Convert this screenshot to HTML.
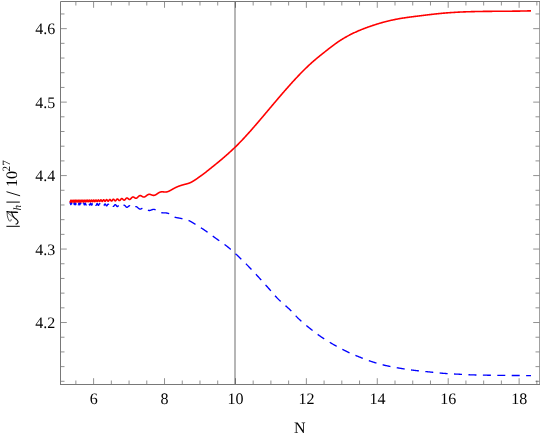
<!DOCTYPE html>
<html><head><meta charset="utf-8"><style>
html,body{margin:0;padding:0;background:#fff;}
svg{display:block;font-family:"Liberation Serif",serif;font-size:16px;fill:#000;}
text{text-rendering:geometricPrecision;}
</style></head><body>
<svg width="540" height="437" viewBox="0 0 540 437">
<rect width="540" height="437" fill="#fff"/>
<rect x="234" y="1.5" width="2" height="383.0" fill="#b6b6b6"/>
<path d="M70.00,203.61 L70.05,203.34 L70.10,203.08 L70.15,202.87 L70.20,202.72 L70.25,202.64 L70.30,202.64 L70.35,202.72 L70.40,202.86 L70.45,203.07 L70.50,203.32 L70.55,203.59 L70.60,203.87 L70.65,204.12 L70.70,204.34 L70.75,204.50 L70.80,204.59 L70.85,204.61 L70.90,204.55 L70.95,204.42 L71.00,204.23 L71.05,203.99 L71.10,203.73 L71.15,203.46 L71.20,203.21 L71.25,202.98 L71.30,202.81 L71.35,202.70 L71.40,202.66 L71.45,202.69 L71.50,202.79 L71.55,202.96 L71.60,203.18 L71.65,203.43 L71.70,203.69 L71.75,203.96 L71.80,204.20 L71.85,204.39 L71.90,204.54 L71.95,204.62 L72.00,204.62 L72.05,204.56 L72.10,204.43 L72.15,204.25 L72.20,204.02 L72.25,203.77 L72.30,203.51 L72.35,203.26 L72.40,203.04 L72.45,202.86 L72.50,202.74 L72.55,202.69 L72.60,202.70 L72.65,202.78 L72.70,202.92 L72.75,203.11 L72.80,203.35 L72.85,203.60 L72.90,203.86 L72.95,204.10 L73.00,204.32 L73.05,204.49 L73.10,204.60 L73.15,204.65 L73.20,204.64 L73.25,204.56 L73.30,204.42 L73.35,204.23 L73.40,204.00 L73.45,203.76 L73.50,203.51 L73.55,203.27 L73.60,203.06 L73.65,202.89 L73.70,202.77 L73.75,202.72 L73.80,202.72 L73.85,202.80 L73.90,202.93 L73.95,203.11 L74.00,203.32 L74.05,203.56 L74.10,203.81 L74.15,204.05 L74.20,204.27 L74.25,204.45 L74.30,204.59 L74.35,204.66 L74.40,204.68 L74.45,204.63 L74.50,204.53 L74.55,204.37 L74.60,204.17 L74.65,203.95 L74.70,203.71 L74.75,203.47 L74.80,203.24 L74.85,203.05 L74.90,202.89 L74.95,202.79 L75.00,202.74 L75.05,202.76 L75.10,202.83 L75.15,202.96 L75.20,203.13 L75.25,203.34 L75.30,203.57 L75.35,203.81 L75.40,204.05 L75.45,204.26 L75.50,204.44 L75.55,204.59 L75.60,204.68 L75.65,204.71 L75.70,204.69 L75.75,204.61 L75.80,204.48 L75.85,204.30 L75.90,204.10 L75.95,203.87 L76.00,203.64 L76.05,203.41 L76.10,203.20 L76.15,203.03 L76.20,202.89 L76.25,202.81 L76.30,202.78 L76.35,202.80 L76.40,202.88 L76.45,203.01 L76.50,203.17 L76.55,203.38 L76.60,203.60 L76.65,203.83 L76.70,204.06 L76.75,204.27 L76.80,204.45 L76.85,204.59 L76.90,204.69 L76.95,204.74 L77.00,204.73 L77.05,204.67 L77.10,204.56 L77.15,204.41 L77.20,204.23 L77.25,204.02 L77.30,203.80 L77.35,203.57 L77.40,203.36 L77.45,203.17 L77.50,203.01 L77.55,202.90 L77.60,202.83 L77.65,202.81 L77.70,202.85 L77.75,202.93 L77.80,203.06 L77.85,203.22 L77.90,203.42 L77.95,203.63 L78.00,203.86 L78.05,204.07 L78.10,204.28 L78.15,204.46 L78.20,204.60 L78.25,204.71 L78.30,204.76 L78.35,204.77 L78.40,204.73 L78.45,204.65 L78.50,204.52 L78.55,204.35 L78.60,204.16 L78.65,203.95 L78.70,203.74 L78.75,203.53 L78.80,203.33 L78.85,203.16 L78.90,203.02 L78.95,202.92 L79.00,202.86 L79.05,202.86 L79.10,202.89 L79.15,202.98 L79.20,203.10 L79.25,203.26 L79.30,203.45 L79.35,203.66 L79.40,203.87 L79.45,204.08 L79.50,204.28 L79.55,204.46 L79.60,204.60 L79.65,204.72 L79.70,204.79 L79.75,204.81 L79.80,204.79 L79.85,204.73 L79.90,204.62 L79.95,204.48 L80.00,204.31 L80.05,204.12 L80.10,203.92 L80.15,203.71 L80.20,203.51 L80.25,203.33 L80.30,203.17 L80.35,203.04 L80.40,202.95 L80.45,202.90 L80.50,202.90 L80.55,202.94 L80.60,203.01 L80.65,203.13 L80.70,203.28 L80.75,203.46 L80.80,203.65 L80.85,203.85 L80.90,204.06 L80.95,204.25 L81.00,204.43 L81.05,204.59 L81.10,204.71 L81.15,204.80 L81.20,204.84 L81.25,204.85 L81.30,204.82 L81.35,204.74 L81.40,204.63 L81.45,204.49 L81.50,204.32 L81.55,204.13 L81.60,203.94 L81.65,203.74 L81.70,203.55 L81.75,203.38 L81.80,203.22 L81.85,203.10 L81.90,203.01 L81.95,202.96 L82.00,202.94 L82.05,202.97 L82.10,203.03 L82.15,203.13 L82.20,203.27 L82.25,203.43 L82.30,203.61 L82.35,203.80 L82.40,203.99 L82.45,204.18 L82.50,204.37 L82.55,204.53 L82.60,204.67 L82.65,204.78 L82.70,204.85 L82.75,204.89 L82.80,204.89 L82.85,204.85 L82.90,204.78 L82.95,204.67 L83.00,204.54 L83.05,204.38 L83.10,204.20 L83.15,204.02 L83.20,203.83 L83.25,203.65 L83.30,203.48 L83.35,203.32 L83.40,203.19 L83.45,203.09 L83.50,203.03 L83.55,202.99 L83.60,203.00 L83.65,203.04 L83.70,203.11 L83.75,203.22 L83.80,203.36 L83.85,203.51 L83.90,203.69 L83.95,203.87 L84.00,204.06 L84.05,204.24 L84.10,204.41 L84.15,204.57 L84.20,204.70 L84.25,204.81 L84.30,204.89 L84.35,204.93 L84.40,204.94 L84.45,204.92 L84.50,204.86 L84.55,204.77 L84.60,204.65 L84.65,204.51 L84.70,204.35 L84.75,204.18 L84.80,204.00 L84.85,203.82 L84.90,203.65 L84.95,203.49 L85.00,203.35 L85.05,203.23 L85.10,203.14 L85.15,203.08 L85.20,203.05 L85.25,203.05 L85.30,203.09 L85.35,203.16 L85.40,203.25 L85.45,203.38 L85.50,203.52 L85.55,203.68 L85.60,203.85 L85.65,204.03 L85.70,204.21 L85.75,204.38 L85.80,204.54 L85.85,204.68 L85.90,204.80 L85.95,204.89 L86.00,204.96 L86.05,204.99 L86.10,204.99 L86.15,204.96 L86.20,204.90 L86.25,204.82 L86.30,204.71 L86.35,204.57 L86.40,204.42 L86.45,204.26 L86.50,204.09 L86.55,203.92 L86.60,203.76 L86.65,203.60 L86.70,203.46 L86.75,203.34 L86.80,203.24 L86.85,203.16 L86.90,203.12 L86.95,203.10 L87.00,203.12 L87.05,203.16 L87.10,203.24 L87.15,203.33 L87.20,203.45 L87.25,203.59 L87.30,203.75 L87.35,203.91 L87.40,204.08 L87.45,204.25 L87.50,204.41 L87.55,204.56 L87.60,204.70 L87.65,204.82 L87.70,204.92 L87.75,204.99 L87.80,205.04 L87.85,205.05 L87.90,205.04 L87.95,205.00 L88.00,204.93 L88.05,204.84 L88.10,204.73 L88.15,204.60 L88.20,204.46 L88.25,204.30 L88.30,204.14 L88.35,203.98 L88.40,203.82 L88.45,203.67 L88.50,203.54 L88.55,203.42 L88.60,203.32 L88.65,203.25 L88.70,203.20 L88.75,203.17 L88.80,203.17 L88.85,203.20 L88.90,203.26 L88.95,203.34 L89.00,203.44 L89.05,203.56 L89.10,203.70 L89.15,203.85 L89.20,204.00 L89.25,204.16 L89.30,204.32 L89.35,204.48 L89.40,204.62 L89.45,204.75 L89.50,204.87 L89.55,204.97 L89.60,205.04 L89.65,205.09 L89.70,205.11 L89.75,205.11 L89.80,205.09 L89.85,205.04 L89.90,204.96 L89.95,204.87 L90.00,204.75 L90.05,204.63 L90.10,204.49 L90.15,204.34 L90.20,204.19 L90.25,204.03 L90.30,203.89 L90.35,203.75 L90.40,203.62 L90.45,203.51 L90.50,203.41 L90.55,203.34 L90.60,203.28 L90.65,203.25 L90.70,203.25 L90.75,203.26 L90.80,203.31 L90.85,203.37 L90.90,203.45 L90.95,203.56 L91.00,203.68 L91.05,203.81 L91.10,203.95 L91.15,204.10 L91.20,204.25 L91.25,204.40 L91.30,204.55 L91.35,204.68 L91.40,204.81 L91.45,204.92 L91.50,205.01 L91.55,205.09 L91.60,205.14 L91.65,205.17 L91.70,205.18 L91.75,205.17 L91.80,205.13 L91.85,205.08 L91.90,205.00 L91.95,204.91 L92.00,204.80 L92.05,204.68 L92.10,204.54 L92.15,204.40 L92.20,204.26 L92.25,204.12 L92.30,203.98 L92.35,203.85 L92.40,203.73 L92.45,203.62 L92.50,203.53 L92.55,203.45 L92.60,203.39 L92.65,203.35 L92.70,203.33 L92.75,203.34 L92.80,203.36 L92.85,203.41 L92.90,203.48 L92.95,203.56 L93.00,203.66 L93.05,203.77 L93.10,203.90 L93.15,204.03 L93.20,204.17 L93.25,204.31 L93.30,204.45 L93.35,204.59 L93.40,204.72 L93.45,204.84 L93.50,204.95 L93.55,205.04 L93.60,205.12 L93.65,205.19 L93.70,205.23 L93.75,205.25 L93.80,205.26 L93.85,205.24 L93.90,205.20 L93.95,205.15 L94.00,205.08 L94.05,204.99 L94.10,204.89 L94.15,204.78 L94.20,204.66 L94.25,204.53 L94.30,204.40 L94.35,204.27 L94.40,204.14 L94.45,204.01 L94.50,203.89 L94.55,203.78 L94.60,203.69 L94.65,203.60 L94.70,203.53 L94.75,203.48 L94.80,203.45 L94.85,203.43 L94.90,203.44 L94.95,203.46 L95.00,203.50 L95.05,203.56 L95.10,203.63 L95.15,203.72 L95.20,203.82 L95.25,203.93 L95.30,204.05 L95.35,204.18 L95.40,204.31 L95.45,204.44 L95.50,204.57 L95.55,204.70 L95.60,204.82 L95.65,204.93 L95.70,205.03 L95.75,205.12 L95.80,205.20 L95.85,205.26 L95.90,205.30 L95.95,205.33 L96.00,205.34 L96.05,205.33 L96.10,205.31 L96.15,205.27 L96.20,205.21 L96.25,205.14 L96.30,205.06 L96.35,204.96 L96.40,204.86 L96.45,204.74 L96.50,204.63 L96.55,204.50 L96.60,204.38 L96.65,204.26 L96.70,204.14 L96.75,204.03 L96.80,203.93 L96.85,203.83 L96.90,203.75 L96.95,203.68 L97.00,203.62 L97.05,203.58 L97.10,203.55 L97.15,203.54 L97.20,203.55 L97.25,203.57 L97.30,203.61 L97.35,203.66 L97.40,203.73 L97.45,203.81 L97.50,203.90 L97.55,204.00 L97.60,204.11 L97.65,204.23 L97.70,204.35 L97.75,204.47 L97.80,204.59 L97.85,204.71 L97.90,204.83 L97.95,204.94 L98.00,205.04 L98.05,205.14 L98.10,205.22 L98.15,205.29 L98.20,205.35 L98.25,205.39 L98.30,205.42 L98.35,205.44 L98.40,205.44 L98.45,205.42 L98.50,205.39 L98.55,205.35 L98.60,205.29 L98.65,205.22 L98.70,205.14 L98.75,205.05 L98.80,204.95 L98.85,204.85 L98.90,204.74 L98.95,204.63 L99.00,204.51 L99.05,204.40 L99.10,204.29 L99.15,204.19 L99.20,204.09 L99.25,204.00 L99.30,203.92 L99.35,203.84 L99.40,203.78 L99.45,203.74 L99.50,203.70 L99.55,203.68 L99.60,203.67 L99.65,203.68 L99.70,203.70 L99.75,203.73 L99.80,203.78 L99.85,203.84 L99.90,203.91 L99.95,203.99 L100.00,204.08 L100.05,204.17 L100.10,204.28 L100.15,204.38 L100.20,204.50 L100.25,204.61 L100.30,204.72 L100.35,204.83 L100.40,204.94 L100.45,205.04 L100.50,205.14 L100.55,205.23 L100.60,205.31 L100.65,205.38 L100.70,205.43 L100.75,205.48 L100.80,205.52 L100.85,205.54 L100.90,205.55 L100.95,205.55 L101.00,205.53 L101.05,205.50 L101.10,205.46 L101.15,205.41 L101.20,205.35 L101.25,205.28 L101.30,205.20 L101.35,205.11 L101.40,205.02 L101.45,204.92 L101.50,204.82 L101.55,204.71 L101.60,204.61 L101.65,204.51 L101.70,204.41 L101.75,204.31 L101.80,204.22 L101.85,204.14 L101.90,204.06 L101.95,203.99 L102.00,203.94 L102.05,203.89 L102.10,203.85 L102.15,203.83 L102.20,203.81 L102.25,203.81 L102.30,203.82 L102.35,203.84 L102.40,203.88 L102.45,203.92 L102.50,203.98 L102.55,204.04 L102.60,204.12 L102.65,204.20 L102.70,204.29 L102.75,204.38 L102.80,204.48 L102.85,204.58 L102.90,204.69 L102.95,204.79 L103.00,204.90 L103.05,205.00 L103.10,205.10 L103.15,205.19 L103.20,205.28 L103.25,205.37 L103.30,205.44 L103.35,205.51 L103.40,205.57 L103.45,205.62 L103.50,205.65 L103.55,205.68 L103.60,205.70 L103.65,205.70 L103.70,205.70 L103.75,205.68 L103.80,205.65 L103.85,205.62 L103.90,205.57 L103.95,205.51 L104.00,205.45 L104.05,205.38 L104.10,205.30 L104.15,205.21 L104.20,205.12 L104.25,205.03 L104.30,204.94 L104.35,204.84 L104.40,204.75 L104.45,204.65 L104.50,204.56 L104.55,204.47 L104.60,204.39 L104.65,204.31 L104.70,204.24 L104.75,204.18 L104.80,204.12 L104.85,204.07 L104.90,204.03 L104.95,204.00 L105.00,203.99 L105.05,203.98 L105.10,203.98 L105.15,203.99 L105.20,204.01 L105.25,204.04 L105.30,204.08 L105.35,204.13 L105.40,204.19 L105.45,204.26 L105.50,204.33 L105.55,204.41 L105.60,204.49 L105.65,204.58 L105.70,204.68 L105.75,204.77 L105.80,204.87 L105.85,204.97 L105.90,205.06 L105.95,205.16 L106.00,205.25 L106.05,205.34 L106.10,205.43 L106.15,205.51 L106.20,205.58 L106.25,205.65 L106.30,205.71 L106.35,205.76 L106.40,205.80 L106.45,205.84 L106.50,205.86 L106.55,205.88 L106.60,205.89 L106.65,205.88 L106.70,205.87 L106.75,205.85 L106.80,205.82 L106.85,205.78 L106.90,205.74 L106.95,205.68 L107.00,205.62 L107.05,205.56 L107.10,205.49 L107.15,205.41 L107.20,205.33 L107.25,205.25 L107.30,205.16 L107.35,205.07 L107.40,204.99 L107.45,204.90 L107.50,204.81 L107.55,204.73 L107.60,204.65 L107.65,204.58 L107.70,204.50 L107.75,204.44 L107.80,204.38 L107.85,204.33 L107.90,204.28 L107.95,204.24 L108.00,204.21 L108.05,204.19 L108.10,204.18 L108.15,204.17 L108.20,204.17 L108.25,204.19 L108.30,204.21 L108.35,204.23 L108.40,204.27 L108.45,204.32 L108.50,204.37 L108.55,204.43 L108.60,204.49 L108.65,204.56 L108.70,204.64 L108.75,204.72 L108.80,204.80 L108.85,204.88 L108.90,204.97 L108.95,205.06 L109.00,205.15 L109.05,205.24 L109.10,205.33 L109.15,205.42 L109.20,205.50 L109.25,205.58 L109.30,205.66 L109.35,205.73 L109.40,205.80 L109.45,205.86 L109.50,205.91 L109.55,205.96 L109.60,206.00 L109.65,206.04 L109.70,206.07 L109.75,206.09 L109.80,206.10 L109.85,206.10 L109.90,206.10 L109.95,206.08 L110.00,206.06 L110.05,206.04 L110.10,206.00 L110.15,205.96 L110.20,205.91 L110.25,205.86 L110.30,205.80 L110.35,205.74 L110.40,205.67 L110.45,205.60 L110.50,205.53 L110.55,205.45 L110.60,205.37 L110.65,205.30 L110.70,205.22 L110.75,205.14 L110.80,205.06 L110.85,204.98 L110.90,204.91 L110.95,204.84 L111.00,204.77 L111.05,204.71 L111.10,204.65 L111.15,204.60 L111.20,204.55 L111.25,204.51 L111.30,204.47 L111.35,204.44 L111.40,204.42 L111.45,204.40 L111.50,204.39 L111.55,204.39 L111.60,204.40 L111.65,204.41 L111.70,204.43 L111.75,204.46 L111.80,204.49 L111.85,204.53 L111.90,204.58 L111.95,204.63 L112.00,204.68 L112.05,204.75 L112.10,204.81 L112.15,204.88 L112.20,204.95 L112.25,205.03 L112.30,205.11 L112.35,205.19 L112.40,205.27 L112.45,205.35 L112.50,205.43 L112.55,205.52 L112.60,205.60 L112.65,205.67 L112.70,205.75 L112.75,205.82 L112.80,205.89 L112.85,205.96 L112.90,206.02 L112.95,206.08 L113.00,206.13 L113.05,206.18 L113.10,206.22 L113.15,206.25 L113.20,206.28 L113.25,206.31 L113.30,206.32 L113.35,206.33 L113.40,206.34 L113.45,206.34 L113.50,206.33 L113.55,206.31 L113.60,206.29 L113.65,206.26 L113.70,206.23 L113.75,206.19 L113.80,206.15 L113.85,206.10 L113.90,206.05 L113.95,205.99 L114.00,205.93 L114.05,205.87 L114.10,205.80 L114.15,205.74 L114.20,205.67 L114.25,205.60 L114.30,205.52 L114.35,205.45 L114.40,205.38 L114.45,205.31 L114.50,205.24 L114.55,205.18 L114.60,205.11 L114.65,205.05 L114.70,204.99 L114.75,204.93 L114.80,204.88 L114.85,204.83 L114.90,204.79 L114.95,204.75 L115.00,204.72 L115.05,204.69 L115.10,204.67 L115.15,204.65 L115.20,204.64 L115.25,204.64 L115.30,204.64 L115.35,204.64 L115.40,204.65 L115.45,204.67 L115.50,204.69 L115.55,204.72 L115.60,204.76 L115.65,204.79 L115.70,204.84 L115.75,204.89 L115.80,204.94 L115.85,204.99 L115.90,205.05 L115.95,205.12 L116.00,205.18 L116.05,205.25 L116.10,205.32 L116.15,205.39 L116.20,205.46 L116.25,205.54 L116.30,205.61 L116.35,205.68 L116.40,205.76 L116.45,205.83 L116.50,205.90 L116.55,205.97 L116.60,206.04 L116.65,206.10 L116.70,206.16 L116.75,206.22 L116.80,206.28 L116.85,206.33 L116.90,206.38 L116.95,206.42 L117.00,206.46 L117.05,206.49 L117.10,206.52 L117.15,206.55 L117.20,206.57 L117.25,206.58 L117.30,206.59 L117.35,206.59 L117.40,206.59 L117.45,206.58 L117.50,206.57 L117.55,206.56 L117.60,206.54 L117.65,206.51 L117.70,206.48 L117.75,206.44 L117.80,206.41 L117.85,206.36 L117.90,206.32 L117.95,206.27 L118.00,206.22 L118.05,206.16 L118.10,206.10 L118.15,206.05 L118.20,205.99 L118.25,205.92 L118.30,205.86 L118.35,205.80 L118.40,205.73 L118.45,205.67 L118.50,205.61 L118.55,205.55 L118.60,205.48 L118.65,205.43 L118.70,205.37 L118.75,205.31 L118.80,205.26 L118.85,205.21 L118.90,205.16 L118.95,205.12 L119.00,205.08 L119.05,205.04 L119.10,205.01 L119.15,204.98 L119.20,204.96 L119.25,204.94 L119.30,204.92 L119.35,204.91 L119.40,204.90 L119.45,204.90 L119.50,204.90 L119.55,204.91 L119.60,204.92 L119.65,204.94 L119.70,204.96 L119.75,204.98 L119.80,205.01 L119.85,205.04 L119.90,205.08 L119.95,205.12 L120.00,205.17 L120.05,205.21 L120.10,205.26 L120.15,205.32 L120.20,205.37 L120.25,205.43 L120.30,205.49 L120.35,205.55 L120.40,205.62 L120.45,205.68 L120.50,205.75 L120.55,205.81 L120.60,205.88 L120.65,205.94 L120.70,206.01 L120.75,206.07 L120.80,206.14 L120.85,206.20 L120.90,206.26 L120.95,206.32 L121.00,206.38 L121.05,206.44 L121.10,206.49 L121.15,206.54 L121.20,206.59 L121.25,206.64 L121.30,206.68 L121.35,206.72 L121.40,206.75 L121.45,206.78 L121.50,206.81 L121.55,206.83 L121.60,206.85 L121.65,206.87 L121.70,206.88 L121.75,206.89 L121.80,206.89 L121.85,206.89 L121.90,206.89 L121.95,206.88 L122.00,206.87 L122.05,206.85 L122.10,206.83 L122.15,206.81 L122.20,206.78 L122.25,206.75 L122.30,206.72 L122.35,206.68 L122.40,206.65 L122.45,206.60 L122.50,206.56 L122.55,206.52 L122.60,206.47 L122.65,206.42 L122.70,206.37 L122.75,206.31 L122.80,206.26 L122.85,206.21 L122.90,206.15 L122.95,206.10 L123.00,206.04 L123.05,205.99 L123.10,205.93 L123.15,205.88 L123.20,205.83 L123.25,205.77 L123.30,205.72 L123.35,205.68 L123.40,205.63 L123.45,205.58 L123.50,205.54 L123.55,205.50 L123.60,205.46 L123.65,205.43 L123.70,205.39 L123.75,205.36 L123.80,205.34 L123.85,205.31 L123.90,205.29 L123.95,205.27 L124.00,205.26 L124.05,205.25 L124.10,205.24 L124.15,205.24 L124.20,205.24 L124.25,205.24 L124.30,205.25 L124.35,205.26 L124.40,205.28 L124.45,205.29 L124.50,205.31 L124.55,205.34 L124.60,205.37 L124.65,205.40 L124.70,205.43 L124.75,205.47 L124.80,205.50 L124.85,205.55 L124.90,205.59 L124.95,205.64 L125.00,205.68 L125.05,205.73 L125.10,205.79 L125.15,205.84 L125.20,205.90 L125.25,205.95 L125.30,206.01 L125.35,206.07 L125.40,206.12 L125.45,206.18 L125.50,206.24 L125.55,206.30 L125.60,206.36 L125.65,206.42 L125.70,206.48 L125.75,206.53 L125.80,206.59 L125.85,206.65 L125.90,206.70 L125.95,206.75 L126.00,206.80 L126.05,206.85 L126.10,206.90 L126.15,206.95 L126.20,206.99 L126.25,207.03 L126.30,207.07 L126.35,207.10 L126.40,207.14 L126.45,207.17 L126.50,207.19 L126.55,207.22 L126.60,207.24 L126.65,207.26 L126.70,207.28 L126.75,207.29 L126.80,207.30 L126.85,207.31 L126.90,207.31 L126.95,207.31 L127.00,207.31 L127.05,207.30 L127.10,207.30 L127.15,207.28 L127.20,207.27 L127.25,207.25 L127.30,207.24 L127.35,207.21 L127.40,207.19 L127.45,207.16 L127.50,207.14 L127.55,207.11 L127.60,207.07 L127.65,207.04 L127.70,207.00 L127.75,206.96 L127.80,206.93 L127.85,206.88 L127.90,206.84 L127.95,206.80 L128.00,206.76 L128.05,206.71 L128.10,206.67 L128.15,206.62 L128.20,206.58 L128.25,206.53 L128.30,206.49 L128.35,206.44 L128.40,206.40 L128.45,206.35 L128.50,206.31 L128.55,206.27 L128.60,206.22 L128.65,206.18 L128.70,206.14 L128.75,206.11 L128.80,206.07 L128.85,206.03 L128.90,206.00 L128.95,205.97 L129.00,205.94 L129.05,205.91 L129.10,205.89 L129.15,205.86 L129.20,205.84 L129.25,205.82 L129.30,205.81 L129.35,205.79 L129.40,205.78 L129.45,205.77 L129.50,205.77 L129.55,205.76 L129.60,205.76 L129.65,205.77 L129.70,205.77 L129.75,205.78 L129.80,205.79 L129.85,205.80 L129.90,205.81 L129.95,205.83 L130.00,205.85 L130.05,205.87 L130.10,205.90 L130.15,205.92 L130.20,205.95 L130.25,205.98 L130.30,206.02 L130.35,206.05 L130.40,206.09 L130.45,206.13 L130.50,206.17 L130.55,206.21 L130.60,206.26 L130.65,206.30 L130.70,206.35 L130.75,206.40 L130.80,206.44 L130.85,206.49 L130.90,206.55 L130.95,206.60 L131.00,206.65 L131.05,206.70 L131.10,206.76 L131.15,206.81 L131.20,206.86 L131.25,206.92 L131.30,206.97 L131.35,207.02 L131.40,207.07 L131.45,207.13 L131.50,207.18 L131.55,207.23 L131.60,207.28 L131.65,207.33 L131.70,207.38 L131.75,207.42 L131.80,207.47 L131.85,207.51 L131.90,207.56 L131.95,207.60 L132.00,207.64 L132.05,207.68 L132.10,207.71 L132.15,207.75 L132.20,207.78 L132.25,207.81 L132.30,207.84 L132.35,207.87 L132.40,207.90 L132.45,207.92 L132.50,207.94 L132.55,207.96 L132.60,207.98 L132.65,207.99 L132.70,208.00 L132.75,208.01 L132.80,208.02 L132.85,208.03 L132.90,208.03 L132.95,208.03 L133.00,208.03 L133.05,208.03 L133.10,208.03 L133.15,208.02 L133.20,208.01 L133.25,208.00 L133.30,207.99 L133.35,207.97 L133.40,207.96 L133.45,207.94 L133.50,207.92 L133.55,207.90 L133.60,207.88 L133.65,207.85 L133.70,207.83 L133.75,207.80 L133.80,207.77 L133.85,207.74 L133.90,207.71 L133.95,207.68 L134.00,207.65 L134.05,207.62 L134.10,207.58 L134.15,207.55 L134.20,207.52 L134.25,207.48 L134.30,207.44 L134.35,207.41 L134.40,207.37 L134.45,207.34 L134.50,207.30 L134.55,207.27 L134.60,207.23 L134.65,207.20 L134.70,207.16 L134.75,207.13 L134.80,207.10 L134.85,207.06 L134.90,207.03 L134.95,207.00 L135.00,206.97 L135.05,206.94 L135.10,206.91 L135.15,206.89 L135.20,206.86 L135.25,206.84 L135.30,206.81 L135.35,206.79 L135.40,206.77 L135.45,206.75 L135.50,206.73 L135.55,206.72 L135.60,206.70 L135.65,206.69 L135.70,206.68 L135.75,206.67 L135.80,206.66 L135.85,206.66 L135.90,206.65 L135.95,206.65 L136.00,206.65 L136.05,206.65 L136.10,206.65 L136.15,206.66 L136.20,206.67 L136.25,206.67 L136.30,206.68 L136.35,206.70 L136.40,206.71 L136.45,206.73 L136.50,206.74 L136.55,206.76 L136.60,206.78 L136.65,206.80 L136.70,206.83 L136.75,206.85 L136.80,206.88 L136.85,206.91 L136.90,206.94 L136.95,206.97 L137.00,207.00 L137.05,207.04 L137.10,207.07 L137.15,207.11 L137.20,207.14 L137.25,207.18 L137.30,207.22 L137.35,207.26 L137.40,207.30 L137.45,207.35 L137.50,207.39 L137.55,207.43 L137.60,207.48 L137.65,207.52 L137.70,207.57 L137.75,207.61 L137.80,207.66 L137.85,207.71 L137.90,207.75 L137.95,207.80 L138.00,207.84 L138.05,207.89 L138.10,207.94 L138.15,207.98 L138.20,208.03 L138.25,208.08 L138.30,208.12 L138.35,208.17 L138.40,208.21 L138.45,208.26 L138.50,208.30 L138.55,208.34 L138.60,208.38 L138.65,208.43 L138.70,208.47 L138.75,208.51 L138.80,208.54 L138.85,208.58 L138.90,208.62 L138.95,208.65 L139.00,208.69 L139.05,208.72 L139.10,208.75 L139.15,208.78 L139.20,208.81 L139.25,208.84 L139.30,208.87 L139.35,208.89 L139.40,208.92 L139.45,208.94 L139.50,208.96 L139.55,208.98 L139.60,209.00 L139.65,209.02 L139.70,209.03 L139.75,209.05 L139.80,209.06 L139.85,209.07 L139.90,209.08 L139.95,209.09 L140.00,209.09 L140.05,209.10 L140.10,209.10 L140.15,209.10 L140.20,209.10 L140.25,209.10 L140.30,209.10 L140.35,209.10 L140.40,209.09 L140.45,209.09 L140.50,209.08 L140.55,209.07 L140.60,209.06 L140.65,209.05 L140.70,209.03 L140.75,209.02 L140.80,209.00 L140.85,208.99 L140.90,208.97 L140.95,208.95 L141.00,208.93 L141.05,208.91 L141.10,208.89 L141.15,208.87 L141.20,208.85 L141.25,208.82 L141.30,208.80 L141.35,208.77 L141.40,208.75 L141.45,208.72 L141.50,208.69 L141.55,208.67 L141.60,208.64 L141.65,208.61 L141.70,208.58 L141.75,208.55 L141.80,208.52 L141.85,208.50 L141.90,208.47 L141.95,208.44 L142.00,208.41 L142.05,208.38 L142.10,208.35 L142.15,208.32 L142.20,208.29 L142.25,208.27 L142.30,208.24 L142.35,208.21 L142.40,208.18 L142.45,208.16 L142.50,208.13 L142.55,208.10 L142.60,208.08 L142.65,208.05 L142.70,208.03 L142.75,208.01 L142.80,207.99 L142.85,207.96 L142.90,207.94 L142.95,207.92 L143.00,207.90 L143.05,207.89 L143.10,207.87 L143.15,207.85 L143.20,207.84 L143.25,207.82 L143.30,207.81 L143.35,207.80 L143.40,207.79 L143.45,207.78 L143.50,207.77 L143.55,207.76 L143.60,207.75 L143.65,207.75 L143.70,207.74 L143.75,207.74 L143.80,207.74 L143.85,207.74 L143.90,207.74 L143.95,207.74 L144.00,207.75 L144.05,207.75 L144.10,207.76 L144.15,207.76 L144.20,207.77 L144.25,207.78 L144.30,207.79 L144.35,207.80 L144.40,207.82 L144.45,207.83 L144.50,207.85 L144.55,207.86 L144.60,207.88 L144.65,207.90 L144.70,207.92 L144.75,207.94 L144.80,207.96 L144.85,207.99 L144.90,208.01 L144.95,208.03 L145.00,208.06 L145.05,208.09 L145.10,208.12 L145.15,208.14 L145.20,208.17 L145.25,208.21 L145.30,208.24 L145.35,208.27 L145.40,208.30 L145.45,208.34 L145.50,208.37 L145.55,208.41 L145.60,208.44 L145.65,208.48 L145.70,208.51 L145.75,208.55 L145.80,208.59 L145.85,208.63 L145.90,208.67 L145.95,208.70 L146.00,208.74 L146.05,208.78 L146.10,208.82 L146.15,208.86 L146.20,208.90 L146.25,208.94 L146.30,208.99 L146.35,209.03 L146.40,209.07 L146.45,209.11 L146.50,209.15 L146.55,209.19 L146.60,209.23 L146.65,209.27 L146.70,209.31 L146.75,209.35 L146.80,209.39 L146.85,209.43 L146.90,209.47 L146.95,209.51 L147.00,209.54 L147.05,209.58 L147.10,209.62 L147.15,209.66 L147.20,209.69 L147.25,209.73 L147.30,209.76 L147.35,209.80 L147.40,209.83 L147.45,209.87 L147.50,209.90 L147.55,209.93 L147.60,209.96 L147.65,209.99 L147.70,210.02 L147.75,210.05 L147.80,210.08 L147.85,210.11 L147.90,210.13 L147.95,210.16 L148.00,210.18 L148.05,210.21 L148.10,210.23 L148.15,210.25 L148.20,210.28 L148.25,210.30 L148.30,210.32 L148.35,210.33 L148.40,210.35 L148.45,210.37 L148.50,210.38 L148.55,210.40 L148.60,210.41 L148.65,210.43 L148.70,210.44 L148.75,210.45 L148.80,210.46 L148.85,210.47 L148.90,210.48 L148.95,210.48 L149.00,210.49 L149.05,210.50 L149.10,210.50 L149.15,210.50 L149.20,210.51 L149.25,210.51 L149.30,210.51 L149.35,210.51 L149.40,210.51 L149.45,210.51 L149.50,210.50 L149.55,210.50 L149.60,210.50 L149.65,210.49 L149.70,210.49 L149.75,210.48 L149.80,210.47 L149.85,210.46 L149.90,210.46 L149.95,210.45 L150.00,210.44 L150.05,210.43 L150.10,210.41 L150.15,210.40 L150.20,210.39 L150.25,210.38 L150.30,210.36 L150.35,210.35 L150.40,210.33 L150.45,210.32 L150.50,210.30 L150.55,210.29 L150.60,210.27 L150.65,210.25 L150.70,210.23 L150.75,210.22 L150.80,210.20 L150.85,210.18 L150.90,210.16 L150.95,210.14 L151.00,210.12 L151.05,210.10 L151.10,210.08 L151.15,210.06 L151.20,210.05 L151.25,210.03 L151.30,210.01 L151.35,209.99 L151.40,209.97 L151.45,209.95 L151.50,209.93 L151.55,209.91 L151.60,209.89 L151.65,209.87 L151.70,209.85 L151.75,209.83 L151.80,209.81 L151.85,209.79 L151.90,209.77 L151.95,209.75 L152.00,209.73 L152.05,209.71 L152.10,209.69 L152.15,209.68 L152.20,209.66 L152.25,209.64 L152.30,209.63 L152.35,209.61 L152.40,209.59 L152.45,209.58 L152.50,209.56 L152.55,209.55 L152.60,209.53 L152.65,209.52 L152.70,209.51 L152.75,209.49 L152.80,209.48 L152.85,209.47 L152.90,209.46 L152.95,209.45 L153.00,209.44 L153.05,209.43 L153.10,209.42 L153.15,209.41 L153.20,209.41 L153.25,209.40 L153.30,209.39 L153.35,209.39 L153.40,209.38 L153.45,209.38 L153.50,209.38 L153.55,209.37 L153.60,209.37 L153.65,209.37 L153.70,209.37 L153.75,209.37 L153.80,209.37 L153.85,209.37 L153.90,209.37 L153.95,209.38 L154.00,209.38 L154.05,209.39 L154.10,209.40 L154.15,209.40 L154.20,209.41 L154.25,209.42 L154.30,209.43 L154.35,209.44 L154.40,209.45 L154.45,209.47 L154.50,209.48 L154.55,209.49 L154.60,209.51 L154.65,209.52 L154.70,209.54 L154.75,209.55 L154.80,209.57 L154.85,209.58 L154.90,209.60 L154.95,209.62 L155.00,209.64 L155.05,209.66 L155.10,209.68 L155.15,209.70 L155.20,209.72 L155.25,209.74 L155.30,209.77 L155.35,209.79 L155.40,209.81 L155.45,209.84 L155.50,209.86 L155.55,209.88 L155.60,209.91 L155.65,209.94 L155.70,209.96 L155.75,209.99 L155.80,210.01 L155.85,210.04 L155.90,210.07 L155.95,210.10 L156.00,210.13 L156.05,210.15 L156.10,210.18 L156.15,210.21 L156.20,210.24 L156.25,210.27 L156.30,210.30 L156.35,210.33 L156.40,210.36 L156.45,210.39 L156.50,210.42 L156.55,210.45 L156.60,210.49 L156.65,210.52 L156.70,210.55 L156.75,210.58 L156.80,210.61 L156.85,210.64 L156.90,210.68 L156.95,210.71 L157.00,210.74 L157.05,210.77 L157.10,210.80 L157.15,210.84 L157.20,210.87 L157.25,210.90 L157.30,210.93 L157.35,210.96 L157.40,211.00 L157.45,211.03 L157.50,211.06 L157.55,211.09 L157.60,211.12 L157.65,211.15 L157.70,211.18 L157.75,211.22 L157.80,211.25 L157.85,211.28 L157.90,211.31 L157.95,211.34 L158.00,211.37 L158.05,211.40 L158.10,211.43 L158.15,211.46 L158.20,211.49 L158.25,211.52 L158.30,211.55 L158.35,211.57 L158.40,211.60 L158.45,211.63 L158.50,211.66 L158.55,211.69 L158.60,211.71 L158.65,211.74 L158.70,211.77 L158.75,211.79 L158.80,211.82 L158.85,211.85 L158.90,211.87 L158.95,211.90 L159.00,211.92 L159.05,211.95 L159.10,211.97 L159.15,211.99 L159.20,212.02 L159.25,212.04 L159.30,212.06 L159.35,212.08 L159.40,212.11 L159.45,212.13 L159.50,212.15 L159.55,212.17 L159.60,212.19 L159.65,212.21 L159.70,212.23 L159.75,212.25 L159.80,212.27 L159.85,212.29 L159.90,212.30 L159.95,212.32 L160.00,212.34 L160.05,212.36 L160.10,212.37 L160.15,212.39 L160.20,212.40 L160.25,212.42 L160.30,212.44 L160.35,212.45 L160.40,212.46 L160.45,212.48 L160.50,212.49 L160.55,212.51 L160.60,212.52 L160.65,212.53 L160.70,212.54 L160.75,212.56 L160.80,212.57 L160.85,212.58 L160.90,212.59 L160.95,212.60 L161.00,212.61 L161.05,212.62 L161.10,212.63 L161.15,212.64 L161.20,212.65 L161.25,212.66 L161.30,212.67 L161.35,212.67 L161.40,212.68 L161.45,212.69 L161.50,212.70 L161.55,212.70 L161.60,212.71 L161.65,212.72 L161.70,212.72 L161.75,212.73 L161.80,212.74 L161.85,212.74 L161.90,212.75 L161.95,212.75 L162.00,212.76 L162.05,212.76 L162.10,212.76 L162.15,212.77 L162.20,212.77 L162.25,212.78 L162.30,212.78 L162.35,212.78 L162.40,212.79 L162.45,212.79 L162.50,212.79 L162.55,212.80 L162.60,212.80 L162.65,212.80 L162.70,212.80 L162.75,212.80 L162.80,212.81 L162.85,212.81 L162.90,212.81 L162.95,212.81 L163.00,212.81 L163.05,212.81 L163.10,212.82 L163.15,212.82 L163.20,212.82 L163.25,212.82 L163.30,212.82 L163.35,212.82 L163.40,212.82 L163.45,212.82 L163.50,212.82 L163.55,212.82 L163.60,212.82 L163.65,212.82 L163.70,212.83 L163.75,212.83 L163.80,212.83 L163.85,212.83 L163.90,212.83 L163.95,212.83 L164.00,212.83 L164.05,212.83 L164.10,212.83 L164.15,212.83 L164.20,212.83 L164.25,212.83 L164.30,212.83 L164.35,212.84 L164.40,212.84 L164.45,212.84 L164.50,212.84 L164.55,212.84 L164.60,212.84 L164.65,212.84 L164.70,212.84 L164.75,212.85 L164.80,212.85 L164.85,212.85 L164.90,212.85 L164.95,212.85 L165.00,212.85 L165.05,212.86 L165.10,212.86 L165.15,212.86 L165.20,212.86 L165.25,212.87 L165.30,212.87 L165.35,212.87 L165.40,212.88 L165.45,212.88 L165.50,212.88 L165.55,212.89 L165.60,212.89 L165.65,212.89 L165.70,212.90 L165.75,212.90 L165.80,212.91 L165.85,212.91 L165.90,212.92 L165.95,212.92 L166.00,212.93 L166.05,212.93 L166.10,212.94 L166.15,212.94 L166.20,212.95 L166.25,212.95 L166.30,212.96 L166.35,212.97 L166.40,212.97 L166.45,212.98 L166.50,212.99 L166.55,213.00 L166.60,213.00 L166.65,213.01 L166.70,213.02 L166.75,213.03 L166.80,213.04 L166.85,213.04 L166.90,213.05 L166.95,213.06 L167.00,213.07 L167.05,213.08 L167.10,213.09 L167.15,213.10 L167.20,213.11 L167.25,213.12 L167.30,213.13 L167.35,213.14 L167.40,213.16 L167.45,213.17 L167.50,213.18 L167.55,213.19 L167.60,213.20 L167.65,213.22 L167.70,213.23 L167.75,213.24 L167.80,213.26 L167.85,213.27 L167.90,213.28 L167.95,213.30 L168.00,213.31 L168.05,213.33 L168.10,213.34 L168.15,213.36 L168.20,213.37 L168.25,213.39 L168.30,213.40 L168.35,213.42 L168.40,213.44 L168.45,213.45 L168.50,213.47 L168.55,213.49 L168.60,213.51 L168.65,213.52 L168.70,213.54 L168.75,213.56 L168.80,213.58 L168.85,213.60 L168.90,213.62 L168.95,213.64 L169.00,213.66 L169.05,213.68 L169.10,213.70 L169.15,213.72 L169.20,213.74 L169.25,213.76 L169.30,213.78 L169.35,213.80 L169.40,213.82 L169.45,213.85 L169.50,213.87 L169.55,213.89 L169.60,213.91 L169.65,213.94 L169.70,213.96 L169.75,213.98 L169.80,214.01 L169.85,214.03 L169.90,214.06 L169.95,214.08 L170.00,214.11 L170.05,214.14 L170.10,214.16 L170.15,214.19 L170.20,214.22 L170.25,214.25 L170.30,214.28 L170.35,214.31 L170.40,214.34 L170.45,214.37 L170.50,214.40 L170.55,214.43 L170.60,214.46 L170.65,214.49 L170.70,214.53 L170.75,214.56 L170.80,214.59 L170.85,214.63 L170.90,214.66 L170.95,214.69 L171.00,214.73 L171.05,214.76 L171.10,214.80 L171.15,214.83 L171.20,214.86 L171.25,214.90 L171.30,214.94 L171.35,214.97 L171.40,215.01 L171.45,215.04 L171.50,215.08 L171.55,215.11 L171.60,215.15 L171.65,215.19 L171.70,215.22 L171.75,215.26 L171.80,215.30 L171.85,215.33 L171.90,215.37 L171.95,215.41 L172.00,215.44 L172.05,215.48 L172.10,215.52 L172.15,215.55 L172.20,215.59 L172.25,215.63 L172.30,215.66 L172.35,215.70 L172.40,215.74 L172.45,215.77 L172.50,215.81 L172.55,215.84 L172.60,215.88 L172.65,215.92 L172.70,215.95 L172.75,215.99 L172.80,216.02 L172.85,216.06 L172.90,216.09 L172.95,216.13 L173.00,216.16 L173.05,216.20 L173.10,216.23 L173.15,216.27 L173.20,216.30 L173.25,216.33 L173.30,216.36 L173.35,216.40 L173.40,216.43 L173.45,216.46 L173.50,216.49 L173.55,216.53 L173.60,216.56 L173.65,216.59 L173.70,216.62 L173.75,216.65 L173.80,216.68 L173.85,216.71 L173.90,216.73 L173.95,216.76 L174.00,216.79 L174.05,216.82 L174.10,216.84 L174.15,216.87 L174.20,216.90 L174.25,216.92 L174.30,216.95 L174.35,216.97 L174.40,216.99 L174.45,217.02 L174.50,217.04 L174.55,217.06 L174.60,217.08 L174.65,217.10 L174.70,217.13 L174.75,217.14 L174.80,217.16 L174.85,217.18 L174.90,217.20 L174.95,217.22 L175.00,217.23 L175.05,217.25 L175.10,217.27 L175.15,217.28 L175.20,217.30 L175.25,217.31 L175.30,217.33 L175.35,217.35 L175.40,217.36 L175.45,217.37 L175.50,217.39 L175.55,217.40 L175.60,217.42 L175.65,217.43 L175.70,217.44 L175.75,217.46 L175.80,217.47 L175.85,217.48 L175.90,217.49 L175.95,217.51 L176.00,217.52 L176.05,217.53 L176.10,217.54 L176.15,217.55 L176.20,217.56 L176.25,217.57 L176.30,217.59 L176.35,217.60 L176.40,217.61 L176.45,217.62 L176.50,217.63 L176.55,217.64 L176.60,217.65 L176.65,217.66 L176.70,217.67 L176.75,217.68 L176.80,217.69 L176.85,217.69 L176.90,217.70 L176.95,217.71 L177.00,217.72 L177.05,217.73 L177.10,217.74 L177.15,217.75 L177.20,217.76 L177.25,217.76 L177.30,217.77 L177.35,217.78 L177.40,217.79 L177.45,217.80 L177.50,217.80 L177.55,217.81 L177.60,217.82 L177.65,217.83 L177.70,217.84 L177.75,217.84 L177.80,217.85 L177.85,217.86 L177.90,217.87 L177.95,217.88 L178.00,217.88 L178.05,217.89 L178.10,217.90 L178.15,217.91 L178.20,217.92 L178.25,217.92 L178.30,217.93 L178.35,217.94 L178.40,217.95 L178.45,217.96 L178.50,217.96 L178.55,217.97 L178.60,217.98 L178.65,217.99 L178.70,218.00 L178.75,218.01 L178.80,218.01 L178.85,218.02 L178.90,218.03 L178.95,218.04 L179.00,218.05 L179.05,218.06 L179.10,218.07 L179.15,218.08 L179.20,218.09 L179.25,218.10 L179.30,218.11 L179.35,218.12 L179.40,218.12 L179.45,218.13 L179.50,218.14 L179.55,218.15 L179.60,218.16 L179.65,218.17 L179.70,218.18 L179.75,218.19 L179.80,218.20 L179.85,218.21 L179.90,218.22 L179.95,218.23 L180.00,218.24 L180.05,218.25 L180.10,218.26 L180.15,218.27 L180.20,218.28 L180.25,218.29 L180.30,218.31 L180.35,218.32 L180.40,218.33 L180.45,218.34 L180.50,218.35 L180.55,218.36 L180.60,218.37 L180.65,218.38 L180.70,218.39 L180.75,218.40 L180.80,218.41 L180.85,218.42 L180.90,218.43 L180.95,218.44 L181.00,218.45 L181.05,218.47 L181.10,218.48 L181.15,218.49 L181.20,218.50 L181.25,218.51 L181.30,218.52 L181.35,218.53 L181.40,218.54 L181.45,218.55 L181.50,218.56 L181.55,218.58 L181.60,218.59 L181.65,218.60 L181.70,218.61 L181.75,218.62 L181.80,218.63 L181.85,218.64 L181.90,218.65 L181.95,218.66 L182.00,218.68 L182.05,218.69 L182.10,218.70 L182.15,218.71 L182.20,218.72 L182.25,218.73 L182.30,218.74 L182.35,218.75 L182.40,218.77 L182.45,218.78 L182.50,218.79 L182.55,218.80 L182.60,218.81 L182.65,218.82 L182.70,218.83 L182.75,218.84 L182.80,218.86 L182.85,218.87 L182.90,218.88 L182.95,218.89 L183.00,218.90 L183.05,218.91 L183.10,218.92 L183.15,218.93 L183.20,218.94 L183.25,218.96 L183.30,218.97 L183.35,218.98 L183.40,218.99 L183.45,219.00 L183.50,219.01 L183.55,219.02 L183.60,219.04 L183.65,219.05 L183.70,219.06 L183.75,219.07 L183.80,219.08 L183.85,219.09 L183.90,219.10 L183.95,219.12 L184.00,219.13 L184.05,219.14 L184.10,219.15 L184.15,219.16 L184.20,219.17 L184.25,219.18 L184.30,219.20 L184.35,219.21 L184.40,219.22 L184.45,219.23 L184.50,219.24 L184.55,219.26 L184.60,219.27 L184.65,219.28 L184.70,219.29 L184.75,219.30 L184.80,219.32 L184.85,219.33 L184.90,219.34 L184.95,219.35 L185.00,219.37 L185.05,219.38 L185.10,219.39 L185.15,219.40 L185.20,219.42 L185.25,219.43 L185.30,219.44 L185.35,219.45 L185.40,219.47 L185.45,219.48 L185.50,219.49 L185.55,219.51 L185.60,219.52 L185.65,219.53 L185.70,219.55 L185.75,219.56 L185.80,219.57 L185.85,219.59 L185.90,219.60 L185.95,219.61 L186.00,219.63 L186.05,219.64 L186.10,219.66 L186.15,219.67 L186.20,219.68 L186.25,219.70 L186.30,219.71 L186.35,219.73 L186.40,219.74 L186.45,219.76 L186.50,219.77 L186.55,219.79 L186.60,219.80 L186.65,219.82 L186.70,219.83 L186.75,219.85 L186.80,219.86 L186.85,219.88 L186.90,219.89 L186.95,219.91 L187.00,219.92 L187.05,219.94 L187.10,219.95 L187.15,219.97 L187.20,219.99 L187.25,220.00 L187.30,220.02 L187.35,220.04 L187.40,220.05 L187.45,220.07 L187.50,220.08 L187.55,220.10 L187.60,220.12 L187.65,220.14 L187.70,220.15 L187.75,220.17 L187.80,220.19 L187.85,220.20 L187.90,220.22 L187.95,220.24 L188.00,220.26 L188.05,220.28 L188.10,220.29 L188.15,220.31 L188.20,220.33 L188.25,220.35 L188.30,220.37 L188.35,220.39 L188.40,220.40 L188.45,220.42 L188.50,220.44 L188.55,220.46 L188.60,220.48 L188.65,220.50 L188.70,220.52 L188.75,220.54 L188.80,220.56 L188.85,220.58 L188.90,220.60 L188.95,220.62 L189.00,220.64 L189.05,220.66 L189.10,220.68 L189.15,220.71 L189.20,220.73 L189.25,220.75 L189.30,220.77 L189.35,220.79 L189.40,220.82 L189.45,220.84 L189.50,220.86 L189.55,220.89 L189.60,220.91 L189.65,220.94 L189.70,220.96 L189.75,220.99 L189.80,221.01 L189.85,221.04 L189.90,221.06 L189.95,221.09 L190.00,221.12 L190.05,221.14 L190.10,221.17 L190.15,221.20 L190.20,221.22 L190.25,221.25 L190.30,221.28 L190.35,221.30 L190.40,221.33 L190.45,221.36 L190.50,221.39 L190.55,221.42 L190.60,221.44 L190.65,221.47 L190.70,221.50 L190.75,221.53 L190.80,221.56 L190.85,221.59 L190.90,221.62 L190.95,221.64 L191.00,221.67 L191.05,221.70 L191.10,221.73 L191.15,221.76 L191.20,221.79 L191.25,221.82 L191.30,221.85 L191.35,221.88 L191.40,221.91 L191.45,221.94 L191.50,221.97 L191.55,222.00 L191.60,222.03 L191.65,222.06 L191.70,222.09 L191.75,222.12 L191.80,222.15 L191.85,222.18 L191.90,222.21 L191.95,222.24 L192.00,222.26 L192.05,222.29 L192.10,222.32 L192.15,222.35 L192.20,222.38 L192.25,222.41 L192.30,222.44 L192.35,222.47 L192.40,222.50 L192.45,222.53 L192.50,222.56 L192.55,222.59 L192.60,222.62 L192.65,222.65 L192.70,222.68 L192.75,222.71 L192.80,222.74 L192.85,222.77 L192.90,222.80 L192.95,222.83 L193.00,222.86 L193.05,222.89 L193.10,222.92 L193.15,222.95 L193.20,222.98 L193.25,223.01 L193.30,223.04 L193.35,223.07 L193.40,223.10 L193.45,223.13 L193.50,223.16 L193.55,223.19 L193.60,223.22 L193.65,223.25 L193.70,223.28 L193.75,223.31 L193.80,223.34 L193.85,223.38 L193.90,223.41 L193.95,223.44 L194.00,223.47 L194.05,223.50 L194.10,223.53 L194.15,223.56 L194.20,223.59 L194.25,223.62 L194.30,223.66 L194.35,223.69 L194.40,223.72 L194.45,223.75 L194.50,223.78 L194.55,223.81 L194.60,223.84 L194.65,223.88 L194.70,223.91 L194.75,223.94 L194.80,223.97 L194.85,224.00 L194.90,224.03 L194.95,224.06 L195.00,224.10 L195.05,224.13 L195.10,224.16 L195.15,224.19 L195.20,224.22 L195.25,224.25 L195.30,224.29 L195.35,224.32 L195.40,224.35 L195.45,224.38 L195.50,224.41 L195.55,224.44 L195.60,224.47 L195.65,224.51 L195.70,224.54 L195.75,224.57 L195.80,224.60 L195.85,224.63 L195.90,224.66 L195.95,224.69 L196.00,224.73 L196.05,224.76 L196.10,224.79 L196.15,224.82 L196.20,224.85 L196.25,224.88 L196.30,224.91 L196.35,224.94 L196.40,224.97 L196.45,225.01 L196.50,225.04 L196.55,225.07 L196.60,225.10 L196.65,225.13 L196.70,225.16 L196.75,225.19 L196.80,225.22 L196.85,225.25 L196.90,225.29 L196.95,225.32 L197.00,225.35 L197.05,225.38 L197.10,225.41 L197.15,225.44 L197.20,225.47 L197.25,225.50 L197.30,225.53 L197.35,225.56 L197.40,225.60 L197.45,225.63 L197.50,225.66 L197.55,225.69 L197.60,225.72 L197.65,225.75 L197.70,225.78 L197.75,225.81 L197.80,225.84 L197.85,225.87 L197.90,225.90 L197.95,225.94 L198.00,225.97 L198.05,226.00 L198.10,226.03 L198.15,226.06 L198.20,226.09 L198.25,226.12 L198.30,226.15 L198.35,226.18 L198.40,226.21 L198.45,226.24 L198.50,226.27 L198.55,226.31 L198.60,226.34 L198.65,226.37 L198.70,226.40 L198.75,226.43 L198.80,226.46 L198.85,226.49 L198.90,226.52 L198.95,226.55 L199.00,226.58 L199.05,226.61 L199.10,226.65 L199.15,226.68 L199.20,226.71 L199.25,226.74 L199.30,226.77 L199.35,226.80 L199.40,226.83 L199.45,226.86 L199.50,226.89 L199.55,226.92 L199.60,226.95 L199.65,226.99 L199.70,227.02 L199.75,227.05 L199.80,227.08 L199.85,227.11 L199.90,227.14 L199.95,227.17 L200.00,227.20 L200.50,227.51 L201.00,227.83 L201.50,228.14 L202.00,228.46 L202.50,228.78 L203.00,229.11 L203.50,229.43 L204.00,229.77 L204.50,230.10 L205.00,230.44 L205.50,230.79 L206.00,231.14 L206.50,231.49 L207.00,231.85 L207.50,232.20 L208.00,232.56 L208.50,232.93 L209.00,233.29 L209.50,233.66 L210.00,234.02 L210.50,234.39 L211.00,234.76 L211.50,235.13 L212.00,235.50 L212.50,235.87 L213.00,236.24 L213.50,236.61 L214.00,236.97 L214.50,237.34 L215.00,237.70 L215.50,238.07 L216.00,238.43 L216.50,238.79 L217.00,239.14 L217.50,239.50 L218.00,239.85 L218.50,240.20 L219.00,240.55 L219.50,240.90 L220.00,241.24 L220.50,241.59 L221.00,241.94 L221.50,242.29 L222.00,242.64 L222.50,243.00 L223.00,243.35 L223.50,243.71 L224.00,244.07 L224.50,244.43 L225.00,244.80 L225.50,245.17 L226.00,245.54 L226.50,245.93 L227.00,246.31 L227.50,246.70 L228.00,247.10 L228.50,247.50 L229.00,247.91 L229.50,248.33 L230.00,248.75 L230.50,249.18 L231.00,249.61 L231.50,250.05 L232.00,250.49 L232.50,250.94 L233.00,251.39 L233.50,251.85 L234.00,252.30 L234.50,252.76 L235.00,253.23 L235.50,253.69 L236.00,254.16 L236.50,254.63 L237.00,255.09 L237.50,255.56 L238.00,256.04 L238.50,256.51 L239.00,256.98 L239.50,257.45 L240.00,257.93 L240.50,258.41 L241.00,258.89 L241.50,259.38 L242.00,259.86 L242.50,260.35 L243.00,260.85 L243.50,261.34 L244.00,261.84 L244.50,262.34 L245.00,262.84 L245.50,263.34 L246.00,263.84 L246.50,264.35 L247.00,264.86 L247.50,265.37 L248.00,265.88 L248.50,266.39 L249.00,266.91 L249.50,267.42 L250.00,267.94 L250.50,268.46 L251.00,268.99 L251.50,269.51 L252.00,270.04 L252.50,270.57 L253.00,271.11 L253.50,271.64 L254.00,272.18 L254.50,272.71 L255.00,273.25 L255.50,273.79 L256.00,274.33 L256.50,274.88 L257.00,275.42 L257.50,275.96 L258.00,276.51 L258.50,277.05 L259.00,277.60 L259.50,278.15 L260.00,278.70 L260.50,279.25 L261.00,279.80 L261.50,280.35 L262.00,280.91 L262.50,281.47 L263.00,282.02 L263.50,282.58 L264.00,283.14 L264.50,283.70 L265.00,284.26 L265.50,284.82 L266.00,285.39 L266.50,285.95 L267.00,286.51 L267.50,287.07 L268.00,287.63 L268.50,288.19 L269.00,288.75 L269.50,289.32 L270.00,289.89 L270.50,290.46 L271.00,291.04 L271.50,291.62 L272.00,292.20 L272.50,292.78 L273.00,293.36 L273.50,293.94 L274.00,294.51 L274.50,295.08 L275.00,295.65 L275.50,296.21 L276.00,296.76 L276.50,297.31 L277.00,297.85 L277.50,298.38 L278.00,298.89 L278.50,299.40 L279.00,299.89 L279.50,300.38 L280.00,300.85 L280.50,301.32 L281.00,301.77 L281.50,302.22 L282.00,302.67 L282.50,303.11 L283.00,303.54 L283.50,303.97 L284.00,304.40 L284.50,304.83 L285.00,305.26 L285.50,305.69 L286.00,306.13 L286.50,306.56 L287.00,307.00 L287.50,307.45 L288.00,307.90 L288.50,308.36 L289.00,308.82 L289.50,309.30 L290.00,309.79 L290.50,310.28 L291.00,310.79 L291.50,311.31 L292.00,311.83 L292.50,312.36 L293.00,312.89 L293.50,313.42 L294.00,313.96 L294.50,314.49 L295.00,315.03 L295.50,315.56 L296.00,316.09 L296.50,316.62 L297.00,317.13 L297.50,317.65 L298.00,318.15 L298.50,318.64 L299.00,319.12 L299.50,319.59 L300.00,320.05 L300.50,320.50 L301.00,320.95 L301.50,321.40 L302.00,321.84 L302.50,322.28 L303.00,322.72 L303.50,323.15 L304.00,323.57 L304.50,324.00 L305.00,324.42 L305.50,324.83 L306.00,325.25 L306.50,325.66 L307.00,326.07 L307.50,326.48 L308.00,326.88 L308.50,327.28 L309.00,327.68 L309.50,328.08 L310.00,328.48 L310.50,328.88 L311.00,329.28 L311.50,329.67 L312.00,330.06 L312.50,330.45 L313.00,330.84 L313.50,331.23 L314.00,331.62 L314.50,332.00 L315.00,332.39 L315.50,332.77 L316.00,333.14 L316.50,333.52 L317.00,333.89 L317.50,334.26 L318.00,334.63 L318.50,334.99 L319.00,335.35 L319.50,335.71 L320.00,336.06 L320.50,336.41 L321.00,336.75 L321.50,337.10 L322.00,337.43 L322.50,337.77 L323.00,338.10 L323.50,338.43 L324.00,338.76 L324.50,339.08 L325.00,339.40 L325.50,339.72 L326.00,340.04 L326.50,340.35 L327.00,340.67 L327.50,340.98 L328.00,341.28 L328.50,341.59 L329.00,341.89 L329.50,342.19 L330.00,342.49 L330.50,342.79 L331.00,343.08 L331.50,343.37 L332.00,343.67 L332.50,343.96 L333.00,344.24 L333.50,344.53 L334.00,344.81 L334.50,345.10 L335.00,345.38 L335.50,345.66 L336.00,345.94 L336.50,346.22 L337.00,346.49 L337.50,346.77 L338.00,347.04 L338.50,347.31 L339.00,347.59 L339.50,347.85 L340.00,348.12 L340.50,348.39 L341.00,348.65 L341.50,348.91 L342.00,349.17 L342.50,349.43 L343.00,349.68 L343.50,349.93 L344.00,350.19 L344.50,350.43 L345.00,350.68 L345.50,350.92 L346.00,351.17 L346.50,351.41 L347.00,351.64 L347.50,351.88 L348.00,352.11 L348.50,352.34 L349.00,352.57 L349.50,352.80 L350.00,353.02 L350.50,353.24 L351.00,353.47 L351.50,353.69 L352.00,353.91 L352.50,354.12 L353.00,354.34 L353.50,354.55 L354.00,354.76 L354.50,354.98 L355.00,355.19 L355.50,355.39 L356.00,355.60 L356.50,355.81 L357.00,356.01 L357.50,356.22 L358.00,356.42 L358.50,356.62 L359.00,356.82 L359.50,357.02 L360.00,357.22 L360.50,357.42 L361.00,357.62 L361.50,357.82 L362.00,358.01 L362.50,358.21 L363.00,358.41 L363.50,358.60 L364.00,358.80 L364.50,359.00 L365.00,359.19 L365.50,359.38 L366.00,359.57 L366.50,359.76 L367.00,359.95 L367.50,360.14 L368.00,360.32 L368.50,360.51 L369.00,360.69 L369.50,360.87 L370.00,361.04 L370.50,361.22 L371.00,361.39 L371.50,361.56 L372.00,361.72 L372.50,361.88 L373.00,362.04 L373.50,362.20 L374.00,362.35 L374.50,362.51 L375.00,362.66 L375.50,362.81 L376.00,362.96 L376.50,363.10 L377.00,363.25 L377.50,363.39 L378.00,363.53 L378.50,363.68 L379.00,363.81 L379.50,363.95 L380.00,364.09 L380.50,364.22 L381.00,364.36 L381.50,364.49 L382.00,364.62 L382.50,364.74 L383.00,364.87 L383.50,364.99 L384.00,365.12 L384.50,365.24 L385.00,365.36 L385.50,365.47 L386.00,365.59 L386.50,365.70 L387.00,365.81 L387.50,365.92 L388.00,366.03 L388.50,366.14 L389.00,366.24 L389.50,366.34 L390.00,366.45 L390.50,366.55 L391.00,366.65 L391.50,366.75 L392.00,366.84 L392.50,366.94 L393.00,367.03 L393.50,367.13 L394.00,367.22 L394.50,367.31 L395.00,367.40 L395.50,367.49 L396.00,367.58 L396.50,367.67 L397.00,367.75 L397.50,367.84 L398.00,367.92 L398.50,368.01 L399.00,368.09 L399.50,368.17 L400.00,368.26 L400.50,368.34 L401.00,368.42 L401.50,368.50 L402.00,368.58 L402.50,368.66 L403.00,368.74 L403.50,368.82 L404.00,368.89 L404.50,368.97 L405.00,369.05 L405.50,369.12 L406.00,369.20 L406.50,369.27 L407.00,369.35 L407.50,369.42 L408.00,369.49 L408.50,369.56 L409.00,369.63 L409.50,369.70 L410.00,369.77 L410.50,369.84 L411.00,369.91 L411.50,369.98 L412.00,370.05 L412.50,370.11 L413.00,370.18 L413.50,370.24 L414.00,370.30 L414.50,370.37 L415.00,370.43 L415.50,370.49 L416.00,370.55 L416.50,370.61 L417.00,370.66 L417.50,370.72 L418.00,370.78 L418.50,370.83 L419.00,370.89 L419.50,370.94 L420.00,371.00 L420.50,371.05 L421.00,371.10 L421.50,371.15 L422.00,371.20 L422.50,371.25 L423.00,371.30 L423.50,371.36 L424.00,371.40 L424.50,371.45 L425.00,371.50 L425.50,371.55 L426.00,371.60 L426.50,371.65 L427.00,371.70 L427.50,371.75 L428.00,371.80 L428.50,371.85 L429.00,371.90 L429.50,371.95 L430.00,372.00 L430.50,372.05 L431.00,372.10 L431.50,372.15 L432.00,372.21 L432.50,372.26 L433.00,372.31 L433.50,372.37 L434.00,372.42 L434.50,372.47 L435.00,372.53 L435.50,372.58 L436.00,372.63 L436.50,372.68 L437.00,372.74 L437.50,372.79 L438.00,372.84 L438.50,372.89 L439.00,372.94 L439.50,372.99 L440.00,373.04 L440.50,373.08 L441.00,373.13 L441.50,373.18 L442.00,373.22 L442.50,373.26 L443.00,373.30 L443.50,373.34 L444.00,373.38 L444.50,373.41 L445.00,373.45 L445.50,373.48 L446.00,373.52 L446.50,373.55 L447.00,373.58 L447.50,373.61 L448.00,373.64 L448.50,373.67 L449.00,373.70 L449.50,373.73 L450.00,373.76 L450.50,373.79 L451.00,373.81 L451.50,373.84 L452.00,373.87 L452.50,373.89 L453.00,373.92 L453.50,373.94 L454.00,373.97 L454.50,374.00 L455.00,374.02 L455.50,374.05 L456.00,374.07 L456.50,374.10 L457.00,374.12 L457.50,374.15 L458.00,374.17 L458.50,374.20 L459.00,374.23 L459.50,374.25 L460.00,374.28 L460.50,374.31 L461.00,374.34 L461.50,374.36 L462.00,374.39 L462.50,374.42 L463.00,374.45 L463.50,374.47 L464.00,374.50 L464.50,374.53 L465.00,374.56 L465.50,374.58 L466.00,374.61 L466.50,374.64 L467.00,374.66 L467.50,374.69 L468.00,374.71 L468.50,374.73 L469.00,374.76 L469.50,374.78 L470.00,374.80 L470.50,374.82 L471.00,374.84 L471.50,374.86 L472.00,374.87 L472.50,374.89 L473.00,374.91 L473.50,374.92 L474.00,374.93 L474.50,374.95 L475.00,374.96 L475.50,374.97 L476.00,374.99 L476.50,375.00 L477.00,375.01 L477.50,375.02 L478.00,375.03 L478.50,375.04 L479.00,375.05 L479.50,375.06 L480.00,375.07 L480.50,375.08 L481.00,375.09 L481.50,375.10 L482.00,375.11 L482.50,375.12 L483.00,375.13 L483.50,375.14 L484.00,375.15 L484.50,375.16 L485.00,375.17 L485.50,375.17 L486.00,375.18 L486.50,375.19 L487.00,375.20 L487.50,375.21 L488.00,375.22 L488.50,375.23 L489.00,375.23 L489.50,375.24 L490.00,375.25 L490.50,375.26 L491.00,375.27 L491.50,375.27 L492.00,375.28 L492.50,375.29 L493.00,375.30 L493.50,375.30 L494.00,375.31 L494.50,375.32 L495.00,375.33 L495.50,375.33 L496.00,375.34 L496.50,375.35 L497.00,375.35 L497.50,375.36 L498.00,375.36 L498.50,375.37 L499.00,375.38 L499.50,375.38 L500.00,375.39 L500.50,375.39 L501.00,375.40 L501.50,375.40 L502.00,375.41 L502.50,375.41 L503.00,375.42 L503.50,375.42 L504.00,375.42 L504.50,375.43 L505.00,375.43 L505.50,375.43 L506.00,375.44 L506.50,375.44 L507.00,375.44 L507.50,375.45 L508.00,375.45 L508.50,375.45 L509.00,375.46 L509.50,375.46 L510.00,375.46 L510.50,375.47 L511.00,375.47 L511.50,375.47 L512.00,375.48 L512.50,375.48 L513.00,375.48 L513.50,375.49 L514.00,375.49 L514.50,375.49 L515.00,375.50 L515.50,375.50 L516.00,375.50 L516.50,375.51 L517.00,375.51 L517.50,375.51 L518.00,375.52 L518.50,375.52 L519.00,375.52 L519.50,375.53 L520.00,375.53 L520.50,375.53 L521.00,375.54 L521.50,375.54 L522.00,375.54 L522.50,375.55 L523.00,375.55 L523.50,375.55 L524.00,375.56 L524.50,375.56 L525.00,375.56 L525.50,375.57 L526.00,375.57 L526.50,375.57 L527.00,375.58 L527.50,375.58 L528.00,375.58 L528.50,375.59 L529.00,375.59 L529.50,375.59 L530.00,375.59 L530.50,375.60 L531.00,375.60" fill="none" stroke="#0000ff" stroke-width="1.35" stroke-dasharray="8.0 6.42" stroke-dashoffset="0.9" stroke-linejoin="round"/>
<path d="M70.00,201.10 L70.05,201.33 L70.10,201.55 L70.15,201.73 L70.20,201.86 L70.25,201.92 L70.30,201.93 L70.35,201.86 L70.40,201.74 L70.45,201.57 L70.50,201.35 L70.55,201.12 L70.60,200.89 L70.65,200.68 L70.70,200.49 L70.75,200.36 L70.80,200.28 L70.85,200.27 L70.90,200.32 L70.95,200.43 L71.00,200.59 L71.05,200.79 L71.10,201.01 L71.15,201.24 L71.20,201.46 L71.25,201.65 L71.30,201.80 L71.35,201.90 L71.40,201.93 L71.45,201.90 L71.50,201.82 L71.55,201.68 L71.60,201.49 L71.65,201.28 L71.70,201.05 L71.75,200.83 L71.80,200.63 L71.85,200.46 L71.90,200.34 L71.95,200.27 L72.00,200.27 L72.05,200.32 L72.10,200.43 L72.15,200.59 L72.20,200.78 L72.25,201.00 L72.30,201.22 L72.35,201.43 L72.40,201.62 L72.45,201.77 L72.50,201.88 L72.55,201.93 L72.60,201.92 L72.65,201.85 L72.70,201.73 L72.75,201.56 L72.80,201.37 L72.85,201.15 L72.90,200.93 L72.95,200.73 L73.00,200.54 L73.05,200.40 L73.10,200.30 L73.15,200.26 L73.20,200.27 L73.25,200.34 L73.30,200.46 L73.35,200.62 L73.40,200.82 L73.45,201.03 L73.50,201.24 L73.55,201.45 L73.60,201.63 L73.65,201.77 L73.70,201.87 L73.75,201.92 L73.80,201.91 L73.85,201.85 L73.90,201.74 L73.95,201.59 L74.00,201.41 L74.05,201.20 L74.10,200.99 L74.15,200.78 L74.20,200.60 L74.25,200.45 L74.30,200.33 L74.35,200.27 L74.40,200.26 L74.45,200.30 L74.50,200.39 L74.55,200.52 L74.60,200.69 L74.65,200.88 L74.70,201.09 L74.75,201.30 L74.80,201.49 L74.85,201.65 L74.90,201.79 L74.95,201.87 L75.00,201.91 L75.05,201.90 L75.10,201.84 L75.15,201.73 L75.20,201.59 L75.25,201.41 L75.30,201.21 L75.35,201.01 L75.40,200.81 L75.45,200.63 L75.50,200.47 L75.55,200.35 L75.60,200.28 L75.65,200.25 L75.70,200.27 L75.75,200.34 L75.80,200.45 L75.85,200.60 L75.90,200.77 L75.95,200.97 L76.00,201.17 L76.05,201.36 L76.10,201.54 L76.15,201.69 L76.20,201.81 L76.25,201.88 L76.30,201.91 L76.35,201.89 L76.40,201.82 L76.45,201.71 L76.50,201.57 L76.55,201.40 L76.60,201.21 L76.65,201.01 L76.70,200.82 L76.75,200.64 L76.80,200.49 L76.85,200.36 L76.90,200.28 L76.95,200.24 L77.00,200.25 L77.05,200.30 L77.10,200.39 L77.15,200.52 L77.20,200.68 L77.25,200.86 L77.30,201.05 L77.35,201.24 L77.40,201.43 L77.45,201.59 L77.50,201.72 L77.55,201.82 L77.60,201.88 L77.65,201.90 L77.70,201.87 L77.75,201.80 L77.80,201.69 L77.85,201.55 L77.90,201.38 L77.95,201.20 L78.00,201.01 L78.05,200.83 L78.10,200.65 L78.15,200.50 L78.20,200.38 L78.25,200.29 L78.30,200.24 L78.35,200.23 L78.40,200.27 L78.45,200.34 L78.50,200.45 L78.55,200.60 L78.60,200.76 L78.65,200.94 L78.70,201.12 L78.75,201.31 L78.80,201.47 L78.85,201.62 L78.90,201.74 L78.95,201.83 L79.00,201.88 L79.05,201.88 L79.10,201.85 L79.15,201.78 L79.20,201.67 L79.25,201.54 L79.30,201.38 L79.35,201.20 L79.40,201.02 L79.45,200.84 L79.50,200.67 L79.55,200.52 L79.60,200.39 L79.65,200.30 L79.70,200.24 L79.75,200.22 L79.80,200.24 L79.85,200.29 L79.90,200.38 L79.95,200.50 L80.00,200.65 L80.05,200.81 L80.10,200.99 L80.15,201.17 L80.20,201.34 L80.25,201.50 L80.30,201.63 L80.35,201.74 L80.40,201.82 L80.45,201.87 L80.50,201.87 L80.55,201.84 L80.60,201.77 L80.65,201.67 L80.70,201.55 L80.75,201.40 L80.80,201.23 L80.85,201.06 L80.90,200.88 L80.95,200.72 L81.00,200.56 L81.05,200.43 L81.10,200.33 L81.15,200.25 L81.20,200.21 L81.25,200.21 L81.30,200.24 L81.35,200.31 L81.40,200.40 L81.45,200.52 L81.50,200.67 L81.55,200.83 L81.60,201.00 L81.65,201.17 L81.70,201.33 L81.75,201.48 L81.80,201.61 L81.85,201.72 L81.90,201.80 L81.95,201.85 L82.00,201.86 L82.05,201.84 L82.10,201.78 L82.15,201.70 L82.20,201.58 L82.25,201.45 L82.30,201.29 L82.35,201.13 L82.40,200.96 L82.45,200.80 L82.50,200.64 L82.55,200.50 L82.60,200.39 L82.65,200.29 L82.70,200.23 L82.75,200.20 L82.80,200.20 L82.85,200.23 L82.90,200.29 L82.95,200.39 L83.00,200.50 L83.05,200.64 L83.10,200.79 L83.15,200.95 L83.20,201.12 L83.25,201.27 L83.30,201.42 L83.35,201.55 L83.40,201.67 L83.45,201.75 L83.50,201.81 L83.55,201.84 L83.60,201.84 L83.65,201.80 L83.70,201.74 L83.75,201.65 L83.80,201.53 L83.85,201.40 L83.90,201.25 L83.95,201.09 L84.00,200.94 L84.05,200.78 L84.10,200.63 L84.15,200.50 L84.20,200.38 L84.25,200.29 L84.30,200.22 L84.35,200.19 L84.40,200.18 L84.45,200.20 L84.50,200.25 L84.55,200.33 L84.60,200.43 L84.65,200.55 L84.70,200.69 L84.75,200.84 L84.80,201.00 L84.85,201.15 L84.90,201.30 L84.95,201.44 L85.00,201.56 L85.05,201.66 L85.10,201.74 L85.15,201.80 L85.20,201.82 L85.25,201.82 L85.30,201.79 L85.35,201.73 L85.40,201.65 L85.45,201.54 L85.50,201.42 L85.55,201.28 L85.60,201.14 L85.65,200.98 L85.70,200.83 L85.75,200.69 L85.80,200.55 L85.85,200.43 L85.90,200.33 L85.95,200.25 L86.00,200.19 L86.05,200.16 L86.10,200.16 L86.15,200.19 L86.20,200.24 L86.25,200.32 L86.30,200.41 L86.35,200.53 L86.40,200.66 L86.45,200.80 L86.50,200.95 L86.55,201.09 L86.60,201.24 L86.65,201.37 L86.70,201.50 L86.75,201.60 L86.80,201.69 L86.85,201.75 L86.90,201.79 L86.95,201.81 L87.00,201.79 L87.05,201.76 L87.10,201.69 L87.15,201.61 L87.20,201.51 L87.25,201.39 L87.30,201.26 L87.35,201.11 L87.40,200.97 L87.45,200.83 L87.50,200.69 L87.55,200.55 L87.60,200.44 L87.65,200.33 L87.70,200.25 L87.75,200.19 L87.80,200.15 L87.85,200.14 L87.90,200.15 L87.95,200.18 L88.00,200.24 L88.05,200.32 L88.10,200.42 L88.15,200.53 L88.20,200.66 L88.25,200.79 L88.30,200.93 L88.35,201.07 L88.40,201.21 L88.45,201.34 L88.50,201.45 L88.55,201.56 L88.60,201.64 L88.65,201.71 L88.70,201.75 L88.75,201.78 L88.80,201.77 L88.85,201.75 L88.90,201.70 L88.95,201.63 L89.00,201.55 L89.05,201.44 L89.10,201.33 L89.15,201.20 L89.20,201.06 L89.25,200.93 L89.30,200.79 L89.35,200.66 L89.40,200.53 L89.45,200.42 L89.50,200.32 L89.55,200.24 L89.60,200.17 L89.65,200.13 L89.70,200.11 L89.75,200.11 L89.80,200.14 L89.85,200.18 L89.90,200.25 L89.95,200.33 L90.00,200.43 L90.05,200.54 L90.10,200.66 L90.15,200.79 L90.20,200.92 L90.25,201.05 L90.30,201.18 L90.35,201.30 L90.40,201.42 L90.45,201.51 L90.50,201.60 L90.55,201.66 L90.60,201.71 L90.65,201.74 L90.70,201.74 L90.75,201.73 L90.80,201.69 L90.85,201.64 L90.90,201.57 L90.95,201.48 L91.00,201.38 L91.05,201.26 L91.10,201.14 L91.15,201.01 L91.20,200.88 L91.25,200.75 L91.30,200.62 L91.35,200.51 L91.40,200.40 L91.45,200.30 L91.50,200.22 L91.55,200.16 L91.60,200.11 L91.65,200.08 L91.70,200.07 L91.75,200.09 L91.80,200.12 L91.85,200.17 L91.90,200.24 L91.95,200.32 L92.00,200.41 L92.05,200.52 L92.10,200.64 L92.15,200.76 L92.20,200.88 L92.25,201.01 L92.30,201.13 L92.35,201.25 L92.40,201.35 L92.45,201.45 L92.50,201.53 L92.55,201.60 L92.60,201.65 L92.65,201.69 L92.70,201.70 L92.75,201.70 L92.80,201.68 L92.85,201.64 L92.90,201.58 L92.95,201.51 L93.00,201.43 L93.05,201.33 L93.10,201.22 L93.15,201.10 L93.20,200.98 L93.25,200.86 L93.30,200.74 L93.35,200.62 L93.40,200.50 L93.45,200.40 L93.50,200.30 L93.55,200.22 L93.60,200.15 L93.65,200.09 L93.70,200.06 L93.75,200.04 L93.80,200.03 L93.85,200.05 L93.90,200.08 L93.95,200.13 L94.00,200.19 L94.05,200.27 L94.10,200.36 L94.15,200.46 L94.20,200.56 L94.25,200.68 L94.30,200.79 L94.35,200.91 L94.40,201.03 L94.45,201.14 L94.50,201.24 L94.55,201.34 L94.60,201.43 L94.65,201.50 L94.70,201.56 L94.75,201.61 L94.80,201.64 L94.85,201.66 L94.90,201.65 L94.95,201.63 L95.00,201.60 L95.05,201.55 L95.10,201.49 L95.15,201.41 L95.20,201.32 L95.25,201.22 L95.30,201.12 L95.35,201.01 L95.40,200.89 L95.45,200.78 L95.50,200.66 L95.55,200.55 L95.60,200.44 L95.65,200.34 L95.70,200.25 L95.75,200.17 L95.80,200.11 L95.85,200.05 L95.90,200.01 L95.95,199.99 L96.00,199.98 L96.05,199.99 L96.10,200.01 L96.15,200.05 L96.20,200.10 L96.25,200.16 L96.30,200.24 L96.35,200.32 L96.40,200.42 L96.45,200.52 L96.50,200.62 L96.55,200.73 L96.60,200.84 L96.65,200.95 L96.70,201.06 L96.75,201.16 L96.80,201.25 L96.85,201.34 L96.90,201.41 L96.95,201.48 L97.00,201.53 L97.05,201.57 L97.10,201.59 L97.15,201.60 L97.20,201.59 L97.25,201.58 L97.30,201.54 L97.35,201.50 L97.40,201.44 L97.45,201.37 L97.50,201.29 L97.55,201.20 L97.60,201.10 L97.65,201.00 L97.70,200.89 L97.75,200.78 L97.80,200.67 L97.85,200.57 L97.90,200.46 L97.95,200.36 L98.00,200.27 L98.05,200.19 L98.10,200.12 L98.15,200.05 L98.20,200.00 L98.25,199.96 L98.30,199.94 L98.35,199.92 L98.40,199.92 L98.45,199.94 L98.50,199.97 L98.55,200.01 L98.60,200.06 L98.65,200.12 L98.70,200.19 L98.75,200.28 L98.80,200.36 L98.85,200.46 L98.90,200.56 L98.95,200.66 L99.00,200.76 L99.05,200.86 L99.10,200.96 L99.15,201.06 L99.20,201.15 L99.25,201.23 L99.30,201.31 L99.35,201.37 L99.40,201.43 L99.45,201.47 L99.50,201.50 L99.55,201.52 L99.60,201.53 L99.65,201.53 L99.70,201.51 L99.75,201.48 L99.80,201.44 L99.85,201.39 L99.90,201.33 L99.95,201.25 L100.00,201.17 L100.05,201.09 L100.10,200.99 L100.15,200.90 L100.20,200.80 L100.25,200.70 L100.30,200.59 L100.35,200.50 L100.40,200.40 L100.45,200.31 L100.50,200.22 L100.55,200.14 L100.60,200.07 L100.65,200.01 L100.70,199.95 L100.75,199.91 L100.80,199.88 L100.85,199.86 L100.90,199.85 L100.95,199.86 L101.00,199.87 L101.05,199.90 L101.10,199.94 L101.15,199.98 L101.20,200.04 L101.25,200.11 L101.30,200.18 L101.35,200.26 L101.40,200.34 L101.45,200.43 L101.50,200.53 L101.55,200.62 L101.60,200.72 L101.65,200.81 L101.70,200.90 L101.75,200.99 L101.80,201.07 L101.85,201.15 L101.90,201.22 L101.95,201.28 L102.00,201.33 L102.05,201.38 L102.10,201.41 L102.15,201.44 L102.20,201.45 L102.25,201.45 L102.30,201.44 L102.35,201.42 L102.40,201.39 L102.45,201.35 L102.50,201.30 L102.55,201.25 L102.60,201.18 L102.65,201.11 L102.70,201.03 L102.75,200.94 L102.80,200.85 L102.85,200.76 L102.90,200.67 L102.95,200.57 L103.00,200.48 L103.05,200.39 L103.10,200.30 L103.15,200.21 L103.20,200.13 L103.25,200.06 L103.30,199.99 L103.35,199.93 L103.40,199.88 L103.45,199.83 L103.50,199.80 L103.55,199.78 L103.60,199.76 L103.65,199.76 L103.70,199.77 L103.75,199.78 L103.80,199.81 L103.85,199.84 L103.90,199.89 L103.95,199.94 L104.00,200.00 L104.05,200.06 L104.10,200.13 L104.15,200.21 L104.20,200.29 L104.25,200.38 L104.30,200.46 L104.35,200.55 L104.40,200.63 L104.45,200.72 L104.50,200.80 L104.55,200.88 L104.60,200.96 L104.65,201.03 L104.70,201.10 L104.75,201.16 L104.80,201.21 L104.85,201.25 L104.90,201.29 L104.95,201.32 L105.00,201.34 L105.05,201.35 L105.10,201.35 L105.15,201.34 L105.20,201.32 L105.25,201.29 L105.30,201.25 L105.35,201.21 L105.40,201.16 L105.45,201.10 L105.50,201.03 L105.55,200.96 L105.60,200.89 L105.65,200.80 L105.70,200.72 L105.75,200.63 L105.80,200.55 L105.85,200.46 L105.90,200.37 L105.95,200.28 L106.00,200.20 L106.05,200.12 L106.10,200.04 L106.15,199.97 L106.20,199.90 L106.25,199.84 L106.30,199.79 L106.35,199.74 L106.40,199.70 L106.45,199.67 L106.50,199.65 L106.55,199.63 L106.60,199.62 L106.65,199.63 L106.70,199.64 L106.75,199.66 L106.80,199.69 L106.85,199.72 L106.90,199.76 L106.95,199.81 L107.00,199.87 L107.05,199.93 L107.10,200.00 L107.15,200.07 L107.20,200.14 L107.25,200.22 L107.30,200.30 L107.35,200.38 L107.40,200.46 L107.45,200.54 L107.50,200.62 L107.55,200.70 L107.60,200.77 L107.65,200.84 L107.70,200.91 L107.75,200.97 L107.80,201.02 L107.85,201.07 L107.90,201.12 L107.95,201.15 L108.00,201.18 L108.05,201.20 L108.10,201.22 L108.15,201.22 L108.20,201.22 L108.25,201.21 L108.30,201.19 L108.35,201.17 L108.40,201.13 L108.45,201.09 L108.50,201.05 L108.55,200.99 L108.60,200.93 L108.65,200.87 L108.70,200.80 L108.75,200.73 L108.80,200.65 L108.85,200.57 L108.90,200.49 L108.95,200.41 L109.00,200.33 L109.05,200.24 L109.10,200.16 L109.15,200.08 L109.20,200.00 L109.25,199.93 L109.30,199.86 L109.35,199.79 L109.40,199.73 L109.45,199.67 L109.50,199.62 L109.55,199.58 L109.60,199.54 L109.65,199.51 L109.70,199.48 L109.75,199.46 L109.80,199.45 L109.85,199.45 L109.90,199.45 L109.95,199.47 L110.00,199.48 L110.05,199.51 L110.10,199.54 L110.15,199.58 L110.20,199.62 L110.25,199.67 L110.30,199.73 L110.35,199.79 L110.40,199.85 L110.45,199.92 L110.50,199.99 L110.55,200.06 L110.60,200.13 L110.65,200.21 L110.70,200.28 L110.75,200.36 L110.80,200.43 L110.85,200.50 L110.90,200.57 L110.95,200.64 L111.00,200.70 L111.05,200.76 L111.10,200.82 L111.15,200.87 L111.20,200.91 L111.25,200.95 L111.30,200.99 L111.35,201.01 L111.40,201.04 L111.45,201.05 L111.50,201.06 L111.55,201.06 L111.60,201.06 L111.65,201.05 L111.70,201.03 L111.75,201.00 L111.80,200.97 L111.85,200.94 L111.90,200.89 L111.95,200.85 L112.00,200.79 L112.05,200.73 L112.10,200.67 L112.15,200.61 L112.20,200.54 L112.25,200.47 L112.30,200.39 L112.35,200.32 L112.40,200.24 L112.45,200.16 L112.50,200.09 L112.55,200.01 L112.60,199.94 L112.65,199.86 L112.70,199.79 L112.75,199.72 L112.80,199.65 L112.85,199.59 L112.90,199.53 L112.95,199.48 L113.00,199.43 L113.05,199.38 L113.10,199.35 L113.15,199.31 L113.20,199.28 L113.25,199.26 L113.30,199.25 L113.35,199.24 L113.40,199.23 L113.45,199.23 L113.50,199.24 L113.55,199.26 L113.60,199.28 L113.65,199.30 L113.70,199.33 L113.75,199.37 L113.80,199.41 L113.85,199.46 L113.90,199.51 L113.95,199.56 L114.00,199.62 L114.05,199.68 L114.10,199.74 L114.15,199.80 L114.20,199.87 L114.25,199.94 L114.30,200.00 L114.35,200.07 L114.40,200.14 L114.45,200.21 L114.50,200.27 L114.55,200.34 L114.60,200.40 L114.65,200.46 L114.70,200.52 L114.75,200.57 L114.80,200.62 L114.85,200.67 L114.90,200.71 L114.95,200.74 L115.00,200.78 L115.05,200.80 L115.10,200.82 L115.15,200.84 L115.20,200.85 L115.25,200.86 L115.30,200.86 L115.35,200.85 L115.40,200.84 L115.45,200.82 L115.50,200.80 L115.55,200.77 L115.60,200.74 L115.65,200.70 L115.70,200.66 L115.75,200.62 L115.80,200.57 L115.85,200.51 L115.90,200.46 L115.95,200.39 L116.00,200.33 L116.05,200.27 L116.10,200.20 L116.15,200.13 L116.20,200.06 L116.25,199.99 L116.30,199.92 L116.35,199.84 L116.40,199.77 L116.45,199.70 L116.50,199.63 L116.55,199.57 L116.60,199.50 L116.65,199.44 L116.70,199.38 L116.75,199.32 L116.80,199.27 L116.85,199.22 L116.90,199.17 L116.95,199.13 L117.00,199.09 L117.05,199.05 L117.10,199.03 L117.15,199.00 L117.20,198.98 L117.25,198.97 L117.30,198.96 L117.35,198.95 L117.40,198.95 L117.45,198.96 L117.50,198.97 L117.55,198.98 L117.60,199.00 L117.65,199.03 L117.70,199.06 L117.75,199.09 L117.80,199.13 L117.85,199.17 L117.90,199.21 L117.95,199.26 L118.00,199.31 L118.05,199.36 L118.10,199.41 L118.15,199.47 L118.20,199.53 L118.25,199.59 L118.30,199.65 L118.35,199.71 L118.40,199.77 L118.45,199.83 L118.50,199.89 L118.55,199.95 L118.60,200.01 L118.65,200.07 L118.70,200.12 L118.75,200.18 L118.80,200.23 L118.85,200.27 L118.90,200.32 L118.95,200.36 L119.00,200.40 L119.05,200.44 L119.10,200.47 L119.15,200.49 L119.20,200.52 L119.25,200.54 L119.30,200.55 L119.35,200.56 L119.40,200.57 L119.45,200.57 L119.50,200.57 L119.55,200.56 L119.60,200.55 L119.65,200.53 L119.70,200.51 L119.75,200.48 L119.80,200.45 L119.85,200.42 L119.90,200.38 L119.95,200.34 L120.00,200.30 L120.05,200.25 L120.10,200.20 L120.15,200.15 L120.20,200.09 L120.25,200.03 L120.30,199.97 L120.35,199.91 L120.40,199.85 L120.45,199.79 L120.50,199.72 L120.55,199.65 L120.60,199.59 L120.65,199.52 L120.70,199.46 L120.75,199.39 L120.80,199.32 L120.85,199.26 L120.90,199.20 L120.95,199.14 L121.00,199.08 L121.05,199.02 L121.10,198.97 L121.15,198.92 L121.20,198.87 L121.25,198.82 L121.30,198.78 L121.35,198.74 L121.40,198.70 L121.45,198.67 L121.50,198.64 L121.55,198.62 L121.60,198.60 L121.65,198.58 L121.70,198.57 L121.75,198.56 L121.80,198.55 L121.85,198.55 L121.90,198.55 L121.95,198.56 L122.00,198.57 L122.05,198.59 L122.10,198.60 L122.15,198.63 L122.20,198.65 L122.25,198.68 L122.30,198.71 L122.35,198.74 L122.40,198.78 L122.45,198.82 L122.50,198.86 L122.55,198.91 L122.60,198.95 L122.65,199.00 L122.70,199.05 L122.75,199.10 L122.80,199.15 L122.85,199.20 L122.90,199.26 L122.95,199.31 L123.00,199.37 L123.05,199.42 L123.10,199.47 L123.15,199.52 L123.20,199.58 L123.25,199.63 L123.30,199.68 L123.35,199.72 L123.40,199.77 L123.45,199.81 L123.50,199.85 L123.55,199.89 L123.60,199.93 L123.65,199.97 L123.70,200.00 L123.75,200.03 L123.80,200.05 L123.85,200.07 L123.90,200.09 L123.95,200.11 L124.00,200.12 L124.05,200.13 L124.10,200.14 L124.15,200.14 L124.20,200.14 L124.25,200.13 L124.30,200.13 L124.35,200.11 L124.40,200.10 L124.45,200.08 L124.50,200.06 L124.55,200.03 L124.60,200.00 L124.65,199.97 L124.70,199.94 L124.75,199.90 L124.80,199.86 L124.85,199.82 L124.90,199.77 L124.95,199.72 L125.00,199.67 L125.05,199.62 L125.10,199.57 L125.15,199.51 L125.20,199.46 L125.25,199.40 L125.30,199.34 L125.35,199.28 L125.40,199.22 L125.45,199.16 L125.50,199.10 L125.55,199.04 L125.60,198.98 L125.65,198.92 L125.70,198.86 L125.75,198.80 L125.80,198.74 L125.85,198.68 L125.90,198.62 L125.95,198.57 L126.00,198.52 L126.05,198.47 L126.10,198.42 L126.15,198.37 L126.20,198.32 L126.25,198.28 L126.30,198.24 L126.35,198.20 L126.40,198.17 L126.45,198.14 L126.50,198.11 L126.55,198.08 L126.60,198.06 L126.65,198.04 L126.70,198.02 L126.75,198.00 L126.80,197.99 L126.85,197.98 L126.90,197.98 L126.95,197.98 L127.00,197.98 L127.05,197.98 L127.10,197.99 L127.15,198.00 L127.20,198.01 L127.25,198.02 L127.30,198.04 L127.35,198.06 L127.40,198.08 L127.45,198.11 L127.50,198.14 L127.55,198.17 L127.60,198.20 L127.65,198.23 L127.70,198.27 L127.75,198.30 L127.80,198.34 L127.85,198.38 L127.90,198.42 L127.95,198.46 L128.00,198.51 L128.05,198.55 L128.10,198.59 L128.15,198.64 L128.20,198.68 L128.25,198.73 L128.30,198.77 L128.35,198.82 L128.40,198.86 L128.45,198.91 L128.50,198.95 L128.55,198.99 L128.60,199.03 L128.65,199.07 L128.70,199.11 L128.75,199.15 L128.80,199.18 L128.85,199.22 L128.90,199.25 L128.95,199.28 L129.00,199.31 L129.05,199.33 L129.10,199.36 L129.15,199.38 L129.20,199.40 L129.25,199.42 L129.30,199.43 L129.35,199.45 L129.40,199.45 L129.45,199.46 L129.50,199.47 L129.55,199.47 L129.60,199.47 L129.65,199.46 L129.70,199.46 L129.75,199.45 L129.80,199.44 L129.85,199.42 L129.90,199.40 L129.95,199.39 L130.00,199.36 L130.05,199.34 L130.10,199.31 L130.15,199.28 L130.20,199.25 L130.25,199.21 L130.30,199.18 L130.35,199.14 L130.40,199.10 L130.45,199.06 L130.50,199.01 L130.55,198.97 L130.60,198.92 L130.65,198.87 L130.70,198.82 L130.75,198.77 L130.80,198.71 L130.85,198.66 L130.90,198.61 L130.95,198.55 L131.00,198.49 L131.05,198.44 L131.10,198.38 L131.15,198.32 L131.20,198.26 L131.25,198.21 L131.30,198.15 L131.35,198.09 L131.40,198.03 L131.45,197.98 L131.50,197.92 L131.55,197.87 L131.60,197.81 L131.65,197.76 L131.70,197.70 L131.75,197.65 L131.80,197.60 L131.85,197.55 L131.90,197.51 L131.95,197.46 L132.00,197.42 L132.05,197.37 L132.10,197.33 L132.15,197.29 L132.20,197.26 L132.25,197.22 L132.30,197.19 L132.35,197.16 L132.40,197.13 L132.45,197.10 L132.50,197.08 L132.55,197.05 L132.60,197.03 L132.65,197.02 L132.70,197.00 L132.75,196.99 L132.80,196.98 L132.85,196.97 L132.90,196.96 L132.95,196.96 L133.00,196.95 L133.05,196.95 L133.10,196.96 L133.15,196.96 L133.20,196.97 L133.25,196.98 L133.30,196.99 L133.35,197.00 L133.40,197.01 L133.45,197.03 L133.50,197.05 L133.55,197.07 L133.60,197.09 L133.65,197.11 L133.70,197.13 L133.75,197.16 L133.80,197.19 L133.85,197.21 L133.90,197.24 L133.95,197.27 L134.00,197.31 L134.05,197.34 L134.10,197.37 L134.15,197.40 L134.20,197.44 L134.25,197.47 L134.30,197.51 L134.35,197.54 L134.40,197.58 L134.45,197.61 L134.50,197.65 L134.55,197.68 L134.60,197.72 L134.65,197.75 L134.70,197.79 L134.75,197.82 L134.80,197.85 L134.85,197.88 L134.90,197.92 L134.95,197.95 L135.00,197.98 L135.05,198.01 L135.10,198.03 L135.15,198.06 L135.20,198.09 L135.25,198.11 L135.30,198.13 L135.35,198.15 L135.40,198.17 L135.45,198.19 L135.50,198.21 L135.55,198.22 L135.60,198.24 L135.65,198.25 L135.70,198.26 L135.75,198.27 L135.80,198.27 L135.85,198.28 L135.90,198.28 L135.95,198.28 L136.00,198.28 L136.05,198.27 L136.10,198.27 L136.15,198.26 L136.20,198.25 L136.25,198.24 L136.30,198.23 L136.35,198.22 L136.40,198.20 L136.45,198.18 L136.50,198.16 L136.55,198.14 L136.60,198.12 L136.65,198.09 L136.70,198.06 L136.75,198.03 L136.80,198.00 L136.85,197.97 L136.90,197.94 L136.95,197.90 L137.00,197.87 L137.05,197.83 L137.10,197.79 L137.15,197.75 L137.20,197.71 L137.25,197.67 L137.30,197.62 L137.35,197.58 L137.40,197.53 L137.45,197.49 L137.50,197.44 L137.55,197.39 L137.60,197.35 L137.65,197.30 L137.70,197.25 L137.75,197.20 L137.80,197.15 L137.85,197.10 L137.90,197.05 L137.95,197.00 L138.00,196.95 L138.05,196.90 L138.10,196.85 L138.15,196.80 L138.20,196.75 L138.25,196.70 L138.30,196.65 L138.35,196.60 L138.40,196.55 L138.45,196.50 L138.50,196.45 L138.55,196.41 L138.60,196.36 L138.65,196.32 L138.70,196.27 L138.75,196.23 L138.80,196.19 L138.85,196.15 L138.90,196.11 L138.95,196.07 L139.00,196.03 L139.05,196.00 L139.10,195.96 L139.15,195.93 L139.20,195.90 L139.25,195.87 L139.30,195.84 L139.35,195.81 L139.40,195.79 L139.45,195.76 L139.50,195.74 L139.55,195.72 L139.60,195.70 L139.65,195.68 L139.70,195.66 L139.75,195.65 L139.80,195.64 L139.85,195.63 L139.90,195.62 L139.95,195.61 L140.00,195.60 L140.05,195.60 L140.10,195.59 L140.15,195.59 L140.20,195.59 L140.25,195.59 L140.30,195.60 L140.35,195.60 L140.40,195.61 L140.45,195.61 L140.50,195.62 L140.55,195.63 L140.60,195.64 L140.65,195.66 L140.70,195.67 L140.75,195.69 L140.80,195.70 L140.85,195.72 L140.90,195.74 L140.95,195.76 L141.00,195.78 L141.05,195.80 L141.10,195.82 L141.15,195.85 L141.20,195.87 L141.25,195.90 L141.30,195.92 L141.35,195.95 L141.40,195.98 L141.45,196.01 L141.50,196.03 L141.55,196.06 L141.60,196.09 L141.65,196.12 L141.70,196.15 L141.75,196.18 L141.80,196.21 L141.85,196.24 L141.90,196.27 L141.95,196.30 L142.00,196.34 L142.05,196.37 L142.10,196.40 L142.15,196.43 L142.20,196.46 L142.25,196.49 L142.30,196.52 L142.35,196.55 L142.40,196.57 L142.45,196.60 L142.50,196.63 L142.55,196.66 L142.60,196.68 L142.65,196.71 L142.70,196.73 L142.75,196.76 L142.80,196.78 L142.85,196.81 L142.90,196.83 L142.95,196.85 L143.00,196.87 L143.05,196.89 L143.10,196.91 L143.15,196.92 L143.20,196.94 L143.25,196.96 L143.30,196.97 L143.35,196.98 L143.40,196.99 L143.45,197.01 L143.50,197.01 L143.55,197.02 L143.60,197.03 L143.65,197.04 L143.70,197.04 L143.75,197.04 L143.80,197.05 L143.85,197.05 L143.90,197.05 L143.95,197.05 L144.00,197.04 L144.05,197.04 L144.10,197.03 L144.15,197.03 L144.20,197.02 L144.25,197.01 L144.30,197.00 L144.35,196.99 L144.40,196.98 L144.45,196.96 L144.50,196.95 L144.55,196.93 L144.60,196.91 L144.65,196.89 L144.70,196.87 L144.75,196.85 L144.80,196.83 L144.85,196.81 L144.90,196.78 L144.95,196.76 L145.00,196.73 L145.05,196.71 L145.10,196.68 L145.15,196.65 L145.20,196.62 L145.25,196.59 L145.30,196.56 L145.35,196.53 L145.40,196.49 L145.45,196.46 L145.50,196.43 L145.55,196.39 L145.60,196.36 L145.65,196.32 L145.70,196.28 L145.75,196.25 L145.80,196.21 L145.85,196.17 L145.90,196.13 L145.95,196.09 L146.00,196.05 L146.05,196.01 L146.10,195.97 L146.15,195.93 L146.20,195.89 L146.25,195.85 L146.30,195.81 L146.35,195.77 L146.40,195.73 L146.45,195.69 L146.50,195.65 L146.55,195.61 L146.60,195.57 L146.65,195.53 L146.70,195.49 L146.75,195.45 L146.80,195.41 L146.85,195.37 L146.90,195.33 L146.95,195.30 L147.00,195.26 L147.05,195.22 L147.10,195.18 L147.15,195.15 L147.20,195.11 L147.25,195.07 L147.30,195.04 L147.35,195.01 L147.40,194.97 L147.45,194.94 L147.50,194.91 L147.55,194.87 L147.60,194.84 L147.65,194.81 L147.70,194.78 L147.75,194.76 L147.80,194.73 L147.85,194.70 L147.90,194.67 L147.95,194.65 L148.00,194.62 L148.05,194.60 L148.10,194.58 L148.15,194.56 L148.20,194.53 L148.25,194.51 L148.30,194.49 L148.35,194.48 L148.40,194.46 L148.45,194.44 L148.50,194.43 L148.55,194.41 L148.60,194.40 L148.65,194.39 L148.70,194.37 L148.75,194.36 L148.80,194.35 L148.85,194.35 L148.90,194.34 L148.95,194.33 L149.00,194.32 L149.05,194.32 L149.10,194.31 L149.15,194.31 L149.20,194.31 L149.25,194.31 L149.30,194.31 L149.35,194.31 L149.40,194.31 L149.45,194.31 L149.50,194.31 L149.55,194.32 L149.60,194.32 L149.65,194.33 L149.70,194.33 L149.75,194.34 L149.80,194.35 L149.85,194.35 L149.90,194.36 L149.95,194.37 L150.00,194.38 L150.05,194.39 L150.10,194.41 L150.15,194.42 L150.20,194.43 L150.25,194.44 L150.30,194.46 L150.35,194.47 L150.40,194.49 L150.45,194.50 L150.50,194.52 L150.55,194.53 L150.60,194.55 L150.65,194.57 L150.70,194.58 L150.75,194.60 L150.80,194.62 L150.85,194.64 L150.90,194.66 L150.95,194.67 L151.00,194.69 L151.05,194.71 L151.10,194.73 L151.15,194.75 L151.20,194.77 L151.25,194.79 L151.30,194.81 L151.35,194.83 L151.40,194.85 L151.45,194.87 L151.50,194.89 L151.55,194.91 L151.60,194.93 L151.65,194.95 L151.70,194.96 L151.75,194.98 L151.80,195.00 L151.85,195.02 L151.90,195.04 L151.95,195.06 L152.00,195.07 L152.05,195.09 L152.10,195.11 L152.15,195.13 L152.20,195.14 L152.25,195.16 L152.30,195.17 L152.35,195.19 L152.40,195.20 L152.45,195.22 L152.50,195.23 L152.55,195.25 L152.60,195.26 L152.65,195.27 L152.70,195.28 L152.75,195.29 L152.80,195.30 L152.85,195.31 L152.90,195.32 L152.95,195.33 L153.00,195.34 L153.05,195.35 L153.10,195.36 L153.15,195.36 L153.20,195.37 L153.25,195.37 L153.30,195.38 L153.35,195.38 L153.40,195.38 L153.45,195.39 L153.50,195.39 L153.55,195.39 L153.60,195.39 L153.65,195.39 L153.70,195.39 L153.75,195.39 L153.80,195.38 L153.85,195.38 L153.90,195.38 L153.95,195.37 L154.00,195.37 L154.05,195.36 L154.10,195.35 L154.15,195.35 L154.20,195.34 L154.25,195.33 L154.30,195.32 L154.35,195.31 L154.40,195.30 L154.45,195.29 L154.50,195.27 L154.55,195.26 L154.60,195.24 L154.65,195.23 L154.70,195.21 L154.75,195.20 L154.80,195.18 L154.85,195.16 L154.90,195.15 L154.95,195.13 L155.00,195.11 L155.05,195.09 L155.10,195.07 L155.15,195.05 L155.20,195.02 L155.25,195.00 L155.30,194.98 L155.35,194.95 L155.40,194.93 L155.45,194.91 L155.50,194.88 L155.55,194.85 L155.60,194.83 L155.65,194.80 L155.70,194.77 L155.75,194.75 L155.80,194.72 L155.85,194.69 L155.90,194.66 L155.95,194.63 L156.00,194.60 L156.05,194.57 L156.10,194.54 L156.15,194.51 L156.20,194.48 L156.25,194.45 L156.30,194.41 L156.35,194.38 L156.40,194.35 L156.45,194.31 L156.50,194.28 L156.55,194.25 L156.60,194.21 L156.65,194.18 L156.70,194.15 L156.75,194.11 L156.80,194.08 L156.85,194.04 L156.90,194.01 L156.95,193.97 L157.00,193.94 L157.05,193.90 L157.10,193.87 L157.15,193.83 L157.20,193.80 L157.25,193.76 L157.30,193.73 L157.35,193.69 L157.40,193.66 L157.45,193.62 L157.50,193.59 L157.55,193.55 L157.60,193.52 L157.65,193.48 L157.70,193.45 L157.75,193.41 L157.80,193.38 L157.85,193.35 L157.90,193.31 L157.95,193.28 L158.00,193.24 L158.05,193.21 L158.10,193.18 L158.15,193.14 L158.20,193.11 L158.25,193.08 L158.30,193.05 L158.35,193.02 L158.40,192.98 L158.45,192.95 L158.50,192.92 L158.55,192.89 L158.60,192.86 L158.65,192.83 L158.70,192.80 L158.75,192.77 L158.80,192.74 L158.85,192.71 L158.90,192.68 L158.95,192.66 L159.00,192.63 L159.05,192.60 L159.10,192.58 L159.15,192.55 L159.20,192.52 L159.25,192.50 L159.30,192.47 L159.35,192.45 L159.40,192.42 L159.45,192.40 L159.50,192.38 L159.55,192.35 L159.60,192.33 L159.65,192.31 L159.70,192.29 L159.75,192.27 L159.80,192.25 L159.85,192.23 L159.90,192.21 L159.95,192.19 L160.00,192.17 L160.05,192.15 L160.10,192.13 L160.15,192.12 L160.20,192.10 L160.25,192.08 L160.30,192.07 L160.35,192.05 L160.40,192.04 L160.45,192.02 L160.50,192.01 L160.55,192.00 L160.60,191.98 L160.65,191.97 L160.70,191.96 L160.75,191.95 L160.80,191.94 L160.85,191.93 L160.90,191.92 L160.95,191.91 L161.00,191.90 L161.05,191.89 L161.10,191.88 L161.15,191.87 L161.20,191.86 L161.25,191.86 L161.30,191.85 L161.35,191.84 L161.40,191.84 L161.45,191.83 L161.50,191.83 L161.55,191.82 L161.60,191.82 L161.65,191.82 L161.70,191.81 L161.75,191.81 L161.80,191.81 L161.85,191.81 L161.90,191.80 L161.95,191.80 L162.00,191.80 L162.05,191.80 L162.10,191.80 L162.15,191.80 L162.20,191.80 L162.25,191.80 L162.30,191.80 L162.35,191.80 L162.40,191.80 L162.45,191.81 L162.50,191.81 L162.55,191.81 L162.60,191.81 L162.65,191.82 L162.70,191.82 L162.75,191.82 L162.80,191.83 L162.85,191.83 L162.90,191.84 L162.95,191.84 L163.00,191.85 L163.05,191.85 L163.10,191.86 L163.15,191.87 L163.20,191.87 L163.25,191.88 L163.30,191.88 L163.35,191.89 L163.40,191.89 L163.45,191.90 L163.50,191.91 L163.55,191.91 L163.60,191.92 L163.65,191.92 L163.70,191.93 L163.75,191.94 L163.80,191.94 L163.85,191.95 L163.90,191.95 L163.95,191.96 L164.00,191.96 L164.05,191.97 L164.10,191.97 L164.15,191.98 L164.20,191.98 L164.25,191.99 L164.30,191.99 L164.35,192.00 L164.40,192.00 L164.45,192.00 L164.50,192.01 L164.55,192.01 L164.60,192.02 L164.65,192.02 L164.70,192.02 L164.75,192.02 L164.80,192.03 L164.85,192.03 L164.90,192.03 L164.95,192.03 L165.00,192.03 L165.05,192.03 L165.10,192.03 L165.15,192.03 L165.20,192.03 L165.25,192.03 L165.30,192.03 L165.35,192.03 L165.40,192.03 L165.45,192.03 L165.50,192.03 L165.55,192.03 L165.60,192.03 L165.65,192.02 L165.70,192.02 L165.75,192.02 L165.80,192.01 L165.85,192.01 L165.90,192.01 L165.95,192.00 L166.00,192.00 L166.05,191.99 L166.10,191.99 L166.15,191.98 L166.20,191.97 L166.25,191.97 L166.30,191.96 L166.35,191.95 L166.40,191.95 L166.45,191.94 L166.50,191.93 L166.55,191.92 L166.60,191.91 L166.65,191.91 L166.70,191.90 L166.75,191.89 L166.80,191.88 L166.85,191.87 L166.90,191.86 L166.95,191.84 L167.00,191.83 L167.05,191.82 L167.10,191.81 L167.15,191.80 L167.20,191.78 L167.25,191.77 L167.30,191.76 L167.35,191.74 L167.40,191.73 L167.45,191.72 L167.50,191.70 L167.55,191.69 L167.60,191.67 L167.65,191.66 L167.70,191.64 L167.75,191.62 L167.80,191.61 L167.85,191.59 L167.90,191.57 L167.95,191.56 L168.00,191.54 L168.05,191.52 L168.10,191.50 L168.15,191.48 L168.20,191.46 L168.25,191.45 L168.30,191.43 L168.35,191.41 L168.40,191.39 L168.45,191.37 L168.50,191.35 L168.55,191.33 L168.60,191.30 L168.65,191.28 L168.70,191.26 L168.75,191.24 L168.80,191.22 L168.85,191.20 L168.90,191.17 L168.95,191.15 L169.00,191.13 L169.05,191.11 L169.10,191.08 L169.15,191.06 L169.20,191.03 L169.25,191.01 L169.30,190.99 L169.35,190.96 L169.40,190.94 L169.45,190.91 L169.50,190.89 L169.55,190.86 L169.60,190.84 L169.65,190.81 L169.70,190.79 L169.75,190.76 L169.80,190.74 L169.85,190.71 L169.90,190.68 L169.95,190.66 L170.00,190.63 L170.05,190.60 L170.10,190.58 L170.15,190.55 L170.20,190.52 L170.25,190.50 L170.30,190.47 L170.35,190.44 L170.40,190.42 L170.45,190.39 L170.50,190.36 L170.55,190.33 L170.60,190.31 L170.65,190.28 L170.70,190.25 L170.75,190.22 L170.80,190.19 L170.85,190.17 L170.90,190.14 L170.95,190.11 L171.00,190.08 L171.05,190.05 L171.10,190.03 L171.15,190.00 L171.20,189.97 L171.25,189.94 L171.30,189.91 L171.35,189.88 L171.40,189.86 L171.45,189.83 L171.50,189.80 L171.55,189.77 L171.60,189.74 L171.65,189.72 L171.70,189.69 L171.75,189.66 L171.80,189.63 L171.85,189.60 L171.90,189.57 L171.95,189.54 L172.00,189.52 L172.05,189.49 L172.10,189.46 L172.15,189.43 L172.20,189.40 L172.25,189.37 L172.30,189.34 L172.35,189.32 L172.40,189.29 L172.45,189.26 L172.50,189.23 L172.55,189.20 L172.60,189.17 L172.65,189.14 L172.70,189.12 L172.75,189.09 L172.80,189.06 L172.85,189.03 L172.90,189.00 L172.95,188.97 L173.00,188.95 L173.05,188.92 L173.10,188.89 L173.15,188.86 L173.20,188.83 L173.25,188.80 L173.30,188.78 L173.35,188.75 L173.40,188.72 L173.45,188.69 L173.50,188.66 L173.55,188.64 L173.60,188.61 L173.65,188.58 L173.70,188.55 L173.75,188.52 L173.80,188.50 L173.85,188.47 L173.90,188.44 L173.95,188.41 L174.00,188.39 L174.05,188.36 L174.10,188.33 L174.15,188.31 L174.20,188.28 L174.25,188.25 L174.30,188.23 L174.35,188.20 L174.40,188.17 L174.45,188.14 L174.50,188.12 L174.55,188.09 L174.60,188.07 L174.65,188.04 L174.70,188.01 L174.75,187.99 L174.80,187.96 L174.85,187.93 L174.90,187.91 L174.95,187.88 L175.00,187.86 L175.05,187.83 L175.10,187.81 L175.15,187.78 L175.20,187.76 L175.25,187.73 L175.30,187.71 L175.35,187.68 L175.40,187.66 L175.45,187.63 L175.50,187.61 L175.55,187.58 L175.60,187.56 L175.65,187.53 L175.70,187.51 L175.75,187.48 L175.80,187.46 L175.85,187.44 L175.90,187.41 L175.95,187.39 L176.00,187.36 L176.05,187.34 L176.10,187.32 L176.15,187.29 L176.20,187.27 L176.25,187.25 L176.30,187.22 L176.35,187.20 L176.40,187.18 L176.45,187.16 L176.50,187.13 L176.55,187.11 L176.60,187.09 L176.65,187.07 L176.70,187.04 L176.75,187.02 L176.80,187.00 L176.85,186.98 L176.90,186.96 L176.95,186.93 L177.00,186.91 L177.05,186.89 L177.10,186.87 L177.15,186.85 L177.20,186.83 L177.25,186.81 L177.30,186.78 L177.35,186.76 L177.40,186.74 L177.45,186.72 L177.50,186.70 L177.55,186.68 L177.60,186.66 L177.65,186.64 L177.70,186.62 L177.75,186.60 L177.80,186.58 L177.85,186.56 L177.90,186.54 L177.95,186.52 L178.00,186.50 L178.05,186.48 L178.10,186.46 L178.15,186.44 L178.20,186.42 L178.25,186.40 L178.30,186.38 L178.35,186.36 L178.40,186.34 L178.45,186.33 L178.50,186.31 L178.55,186.29 L178.60,186.27 L178.65,186.25 L178.70,186.23 L178.75,186.21 L178.80,186.19 L178.85,186.18 L178.90,186.16 L178.95,186.14 L179.00,186.12 L179.05,186.10 L179.10,186.08 L179.15,186.07 L179.20,186.05 L179.25,186.03 L179.30,186.01 L179.35,185.99 L179.40,185.98 L179.45,185.96 L179.50,185.94 L179.55,185.92 L179.60,185.91 L179.65,185.89 L179.70,185.87 L179.75,185.85 L179.80,185.84 L179.85,185.82 L179.90,185.80 L179.95,185.79 L180.00,185.77 L180.05,185.75 L180.10,185.74 L180.15,185.72 L180.20,185.70 L180.25,185.68 L180.30,185.67 L180.35,185.65 L180.40,185.64 L180.45,185.62 L180.50,185.60 L180.55,185.59 L180.60,185.57 L180.65,185.55 L180.70,185.54 L180.75,185.52 L180.80,185.51 L180.85,185.49 L180.90,185.47 L180.95,185.46 L181.00,185.44 L181.05,185.43 L181.10,185.41 L181.15,185.39 L181.20,185.38 L181.25,185.36 L181.30,185.35 L181.35,185.33 L181.40,185.32 L181.45,185.30 L181.50,185.29 L181.55,185.27 L181.60,185.25 L181.65,185.24 L181.70,185.22 L181.75,185.21 L181.80,185.19 L181.85,185.18 L181.90,185.16 L181.95,185.15 L182.00,185.13 L182.05,185.12 L182.10,185.10 L182.15,185.09 L182.20,185.07 L182.25,185.06 L182.30,185.04 L182.35,185.03 L182.40,185.01 L182.45,185.00 L182.50,184.99 L182.55,184.97 L182.60,184.96 L182.65,184.94 L182.70,184.93 L182.75,184.91 L182.80,184.90 L182.85,184.88 L182.90,184.87 L182.95,184.86 L183.00,184.84 L183.05,184.83 L183.10,184.81 L183.15,184.80 L183.20,184.78 L183.25,184.77 L183.30,184.76 L183.35,184.74 L183.40,184.73 L183.45,184.71 L183.50,184.70 L183.55,184.69 L183.60,184.67 L183.65,184.66 L183.70,184.64 L183.75,184.63 L183.80,184.62 L183.85,184.60 L183.90,184.59 L183.95,184.58 L184.00,184.56 L184.05,184.55 L184.10,184.54 L184.15,184.52 L184.20,184.51 L184.25,184.50 L184.30,184.49 L184.35,184.47 L184.40,184.46 L184.45,184.45 L184.50,184.43 L184.55,184.42 L184.60,184.41 L184.65,184.40 L184.70,184.38 L184.75,184.37 L184.80,184.36 L184.85,184.35 L184.90,184.33 L184.95,184.32 L185.00,184.31 L185.05,184.30 L185.10,184.28 L185.15,184.27 L185.20,184.26 L185.25,184.25 L185.30,184.23 L185.35,184.22 L185.40,184.21 L185.45,184.20 L185.50,184.18 L185.55,184.17 L185.60,184.16 L185.65,184.15 L185.70,184.13 L185.75,184.12 L185.80,184.11 L185.85,184.10 L185.90,184.08 L185.95,184.07 L186.00,184.06 L186.05,184.05 L186.10,184.03 L186.15,184.02 L186.20,184.01 L186.25,184.00 L186.30,183.98 L186.35,183.97 L186.40,183.96 L186.45,183.94 L186.50,183.93 L186.55,183.92 L186.60,183.90 L186.65,183.89 L186.70,183.88 L186.75,183.87 L186.80,183.85 L186.85,183.84 L186.90,183.83 L186.95,183.81 L187.00,183.80 L187.05,183.78 L187.10,183.77 L187.15,183.76 L187.20,183.74 L187.25,183.73 L187.30,183.72 L187.35,183.70 L187.40,183.69 L187.45,183.67 L187.50,183.66 L187.55,183.64 L187.60,183.63 L187.65,183.62 L187.70,183.60 L187.75,183.59 L187.80,183.57 L187.85,183.56 L187.90,183.54 L187.95,183.53 L188.00,183.51 L188.05,183.50 L188.10,183.48 L188.15,183.46 L188.20,183.45 L188.25,183.43 L188.30,183.42 L188.35,183.40 L188.40,183.39 L188.45,183.37 L188.50,183.35 L188.55,183.34 L188.60,183.32 L188.65,183.30 L188.70,183.29 L188.75,183.27 L188.80,183.25 L188.85,183.24 L188.90,183.22 L188.95,183.20 L189.00,183.18 L189.05,183.17 L189.10,183.15 L189.15,183.13 L189.20,183.11 L189.25,183.09 L189.30,183.07 L189.35,183.06 L189.40,183.04 L189.45,183.02 L189.50,183.00 L189.55,182.98 L189.60,182.96 L189.65,182.94 L189.70,182.92 L189.75,182.90 L189.80,182.88 L189.85,182.86 L189.90,182.84 L189.95,182.82 L190.00,182.80 L190.05,182.78 L190.10,182.76 L190.15,182.74 L190.20,182.71 L190.25,182.69 L190.30,182.67 L190.35,182.65 L190.40,182.62 L190.45,182.60 L190.50,182.58 L190.55,182.55 L190.60,182.53 L190.65,182.51 L190.70,182.48 L190.75,182.46 L190.80,182.43 L190.85,182.41 L190.90,182.39 L190.95,182.36 L191.00,182.34 L191.05,182.31 L191.10,182.28 L191.15,182.26 L191.20,182.23 L191.25,182.21 L191.30,182.18 L191.35,182.16 L191.40,182.13 L191.45,182.10 L191.50,182.08 L191.55,182.05 L191.60,182.02 L191.65,182.00 L191.70,181.97 L191.75,181.94 L191.80,181.92 L191.85,181.89 L191.90,181.86 L191.95,181.83 L192.00,181.80 L192.05,181.78 L192.10,181.75 L192.15,181.72 L192.20,181.69 L192.25,181.66 L192.30,181.64 L192.35,181.61 L192.40,181.58 L192.45,181.55 L192.50,181.52 L192.55,181.49 L192.60,181.46 L192.65,181.43 L192.70,181.40 L192.75,181.37 L192.80,181.34 L192.85,181.31 L192.90,181.28 L192.95,181.25 L193.00,181.22 L193.05,181.19 L193.10,181.16 L193.15,181.13 L193.20,181.10 L193.25,181.07 L193.30,181.04 L193.35,181.01 L193.40,180.98 L193.45,180.95 L193.50,180.92 L193.55,180.89 L193.60,180.86 L193.65,180.83 L193.70,180.80 L193.75,180.77 L193.80,180.73 L193.85,180.70 L193.90,180.67 L193.95,180.64 L194.00,180.61 L194.05,180.58 L194.10,180.55 L194.15,180.51 L194.20,180.48 L194.25,180.45 L194.30,180.42 L194.35,180.39 L194.40,180.36 L194.45,180.32 L194.50,180.29 L194.55,180.26 L194.60,180.23 L194.65,180.20 L194.70,180.16 L194.75,180.13 L194.80,180.10 L194.85,180.07 L194.90,180.03 L194.95,180.00 L195.00,179.97 L195.05,179.94 L195.10,179.90 L195.15,179.87 L195.20,179.84 L195.25,179.81 L195.30,179.77 L195.35,179.74 L195.40,179.71 L195.45,179.68 L195.50,179.64 L195.55,179.61 L195.60,179.58 L195.65,179.54 L195.70,179.51 L195.75,179.48 L195.80,179.45 L195.85,179.41 L195.90,179.38 L195.95,179.34 L196.00,179.31 L196.05,179.28 L196.10,179.24 L196.15,179.21 L196.20,179.17 L196.25,179.14 L196.30,179.10 L196.35,179.07 L196.40,179.04 L196.45,179.00 L196.50,178.97 L196.55,178.93 L196.60,178.90 L196.65,178.86 L196.70,178.82 L196.75,178.79 L196.80,178.75 L196.85,178.72 L196.90,178.68 L196.95,178.65 L197.00,178.61 L197.05,178.58 L197.10,178.54 L197.15,178.50 L197.20,178.47 L197.25,178.43 L197.30,178.40 L197.35,178.36 L197.40,178.32 L197.45,178.29 L197.50,178.25 L197.55,178.22 L197.60,178.18 L197.65,178.14 L197.70,178.11 L197.75,178.07 L197.80,178.04 L197.85,178.00 L197.90,177.96 L197.95,177.93 L198.00,177.89 L198.05,177.86 L198.10,177.82 L198.15,177.78 L198.20,177.75 L198.25,177.71 L198.30,177.68 L198.35,177.64 L198.40,177.60 L198.45,177.57 L198.50,177.53 L198.55,177.49 L198.60,177.46 L198.65,177.42 L198.70,177.39 L198.75,177.35 L198.80,177.31 L198.85,177.28 L198.90,177.24 L198.95,177.21 L199.00,177.17 L199.05,177.14 L199.10,177.10 L199.15,177.06 L199.20,177.03 L199.25,176.99 L199.30,176.96 L199.35,176.92 L199.40,176.89 L199.45,176.85 L199.50,176.81 L199.55,176.78 L199.60,176.74 L199.65,176.71 L199.70,176.67 L199.75,176.64 L199.80,176.60 L199.85,176.57 L199.90,176.53 L199.95,176.50 L200.00,176.46 L200.50,176.11 L201.00,175.76 L201.50,175.40 L202.00,175.04 L202.50,174.68 L203.00,174.31 L203.50,173.94 L204.00,173.56 L204.50,173.18 L205.00,172.79 L205.50,172.40 L206.00,172.01 L206.50,171.62 L207.00,171.23 L207.50,170.83 L208.00,170.44 L208.50,170.04 L209.00,169.64 L209.50,169.24 L210.00,168.84 L210.50,168.44 L211.00,168.04 L211.50,167.64 L212.00,167.24 L212.50,166.84 L213.00,166.43 L213.50,166.03 L214.00,165.63 L214.50,165.22 L215.00,164.82 L215.50,164.41 L216.00,164.00 L216.50,163.60 L217.00,163.19 L217.50,162.78 L218.00,162.36 L218.50,161.95 L219.00,161.54 L219.50,161.12 L220.00,160.71 L220.50,160.29 L221.00,159.87 L221.50,159.45 L222.00,159.02 L222.50,158.60 L223.00,158.17 L223.50,157.74 L224.00,157.31 L224.50,156.88 L225.00,156.45 L225.50,156.01 L226.00,155.57 L226.50,155.13 L227.00,154.69 L227.50,154.25 L228.00,153.80 L228.50,153.35 L229.00,152.90 L229.50,152.44 L230.00,151.99 L230.50,151.53 L231.00,151.07 L231.50,150.60 L232.00,150.14 L232.50,149.67 L233.00,149.20 L233.50,148.72 L234.00,148.25 L234.50,147.77 L235.00,147.28 L235.50,146.80 L236.00,146.31 L236.50,145.82 L237.00,145.32 L237.50,144.82 L238.00,144.32 L238.50,143.82 L239.00,143.31 L239.50,142.80 L240.00,142.29 L240.50,141.77 L241.00,141.25 L241.50,140.73 L242.00,140.20 L242.50,139.68 L243.00,139.15 L243.50,138.61 L244.00,138.08 L244.50,137.54 L245.00,137.00 L245.50,136.46 L246.00,135.91 L246.50,135.37 L247.00,134.82 L247.50,134.27 L248.00,133.71 L248.50,133.16 L249.00,132.60 L249.50,132.04 L250.00,131.48 L250.50,130.92 L251.00,130.35 L251.50,129.78 L252.00,129.22 L252.50,128.65 L253.00,128.08 L253.50,127.50 L254.00,126.93 L254.50,126.35 L255.00,125.77 L255.50,125.20 L256.00,124.62 L256.50,124.04 L257.00,123.45 L257.50,122.87 L258.00,122.29 L258.50,121.70 L259.00,121.12 L259.50,120.53 L260.00,119.94 L260.50,119.35 L261.00,118.76 L261.50,118.17 L262.00,117.58 L262.50,116.99 L263.00,116.40 L263.50,115.81 L264.00,115.22 L264.50,114.62 L265.00,114.03 L265.50,113.44 L266.00,112.84 L266.50,112.25 L267.00,111.66 L267.50,111.06 L268.00,110.47 L268.50,109.88 L269.00,109.28 L269.50,108.69 L270.00,108.09 L270.50,107.50 L271.00,106.91 L271.50,106.31 L272.00,105.72 L272.50,105.13 L273.00,104.54 L273.50,103.94 L274.00,103.35 L274.50,102.76 L275.00,102.17 L275.50,101.58 L276.00,100.99 L276.50,100.40 L277.00,99.81 L277.50,99.22 L278.00,98.64 L278.50,98.05 L279.00,97.47 L279.50,96.88 L280.00,96.30 L280.50,95.71 L281.00,95.13 L281.50,94.55 L282.00,93.97 L282.50,93.39 L283.00,92.81 L283.50,92.24 L284.00,91.66 L284.50,91.08 L285.00,90.51 L285.50,89.94 L286.00,89.37 L286.50,88.80 L287.00,88.23 L287.50,87.66 L288.00,87.10 L288.50,86.54 L289.00,85.97 L289.50,85.41 L290.00,84.85 L290.50,84.30 L291.00,83.74 L291.50,83.19 L292.00,82.63 L292.50,82.08 L293.00,81.53 L293.50,80.99 L294.00,80.44 L294.50,79.90 L295.00,79.36 L295.50,78.82 L296.00,78.28 L296.50,77.75 L297.00,77.22 L297.50,76.69 L298.00,76.16 L298.50,75.63 L299.00,75.11 L299.50,74.59 L300.00,74.07 L300.50,73.55 L301.00,73.04 L301.50,72.53 L302.00,72.02 L302.50,71.52 L303.00,71.01 L303.50,70.51 L304.00,70.01 L304.50,69.52 L305.00,69.03 L305.50,68.54 L306.00,68.05 L306.50,67.57 L307.00,67.09 L307.50,66.61 L308.00,66.14 L308.50,65.66 L309.00,65.20 L309.50,64.73 L310.00,64.27 L310.50,63.81 L311.00,63.36 L311.50,62.90 L312.00,62.46 L312.50,62.01 L313.00,61.57 L313.50,61.13 L314.00,60.70 L314.50,60.27 L315.00,59.84 L315.50,59.41 L316.00,58.99 L316.50,58.57 L317.00,58.16 L317.50,57.75 L318.00,57.34 L318.50,56.93 L319.00,56.52 L319.50,56.12 L320.00,55.72 L320.50,55.32 L321.00,54.92 L321.50,54.52 L322.00,54.12 L322.50,53.73 L323.00,53.33 L323.50,52.94 L324.00,52.54 L324.50,52.15 L325.00,51.75 L325.50,51.36 L326.00,50.96 L326.50,50.57 L327.00,50.17 L327.50,49.78 L328.00,49.39 L328.50,48.99 L329.00,48.60 L329.50,48.21 L330.00,47.82 L330.50,47.43 L331.00,47.05 L331.50,46.66 L332.00,46.28 L332.50,45.90 L333.00,45.53 L333.50,45.15 L334.00,44.78 L334.50,44.41 L335.00,44.05 L335.50,43.69 L336.00,43.33 L336.50,42.98 L337.00,42.63 L337.50,42.28 L338.00,41.94 L338.50,41.60 L339.00,41.27 L339.50,40.94 L340.00,40.61 L340.50,40.29 L341.00,39.97 L341.50,39.66 L342.00,39.35 L342.50,39.04 L343.00,38.73 L343.50,38.43 L344.00,38.13 L344.50,37.84 L345.00,37.55 L345.50,37.26 L346.00,36.98 L346.50,36.70 L347.00,36.42 L347.50,36.14 L348.00,35.87 L348.50,35.60 L349.00,35.34 L349.50,35.08 L350.00,34.82 L350.50,34.56 L351.00,34.31 L351.50,34.06 L352.00,33.81 L352.50,33.56 L353.00,33.32 L353.50,33.08 L354.00,32.84 L354.50,32.61 L355.00,32.38 L355.50,32.15 L356.00,31.92 L356.50,31.69 L357.00,31.47 L357.50,31.25 L358.00,31.03 L358.50,30.82 L359.00,30.61 L359.50,30.40 L360.00,30.19 L360.50,29.98 L361.00,29.78 L361.50,29.57 L362.00,29.37 L362.50,29.17 L363.00,28.98 L363.50,28.78 L364.00,28.59 L364.50,28.40 L365.00,28.21 L365.50,28.02 L366.00,27.84 L366.50,27.65 L367.00,27.47 L367.50,27.29 L368.00,27.11 L368.50,26.93 L369.00,26.75 L369.50,26.58 L370.00,26.40 L370.50,26.23 L371.00,26.06 L371.50,25.89 L372.00,25.72 L372.50,25.55 L373.00,25.38 L373.50,25.22 L374.00,25.06 L374.50,24.89 L375.00,24.73 L375.50,24.57 L376.00,24.41 L376.50,24.26 L377.00,24.10 L377.50,23.95 L378.00,23.80 L378.50,23.64 L379.00,23.49 L379.50,23.35 L380.00,23.20 L380.50,23.05 L381.00,22.91 L381.50,22.77 L382.00,22.62 L382.50,22.48 L383.00,22.35 L383.50,22.21 L384.00,22.07 L384.50,21.94 L385.00,21.81 L385.50,21.68 L386.00,21.55 L386.50,21.42 L387.00,21.29 L387.50,21.17 L388.00,21.05 L388.50,20.93 L389.00,20.81 L389.50,20.69 L390.00,20.57 L390.50,20.46 L391.00,20.34 L391.50,20.23 L392.00,20.12 L392.50,20.01 L393.00,19.91 L393.50,19.80 L394.00,19.70 L394.50,19.60 L395.00,19.50 L395.50,19.40 L396.00,19.30 L396.50,19.20 L397.00,19.11 L397.50,19.02 L398.00,18.92 L398.50,18.83 L399.00,18.75 L399.50,18.66 L400.00,18.57 L400.50,18.49 L401.00,18.40 L401.50,18.32 L402.00,18.24 L402.50,18.16 L403.00,18.08 L403.50,18.00 L404.00,17.92 L404.50,17.85 L405.00,17.77 L405.50,17.70 L406.00,17.62 L406.50,17.55 L407.00,17.48 L407.50,17.41 L408.00,17.34 L408.50,17.27 L409.00,17.20 L409.50,17.13 L410.00,17.06 L410.50,17.00 L411.00,16.93 L411.50,16.86 L412.00,16.80 L412.50,16.73 L413.00,16.67 L413.50,16.60 L414.00,16.54 L414.50,16.48 L415.00,16.41 L415.50,16.35 L416.00,16.29 L416.50,16.23 L417.00,16.17 L417.50,16.10 L418.00,16.04 L418.50,15.98 L419.00,15.92 L419.50,15.86 L420.00,15.80 L420.50,15.73 L421.00,15.67 L421.50,15.61 L422.00,15.55 L422.50,15.49 L423.00,15.43 L423.50,15.37 L424.00,15.31 L424.50,15.24 L425.00,15.18 L425.50,15.12 L426.00,15.06 L426.50,15.00 L427.00,14.94 L427.50,14.88 L428.00,14.82 L428.50,14.76 L429.00,14.70 L429.50,14.64 L430.00,14.59 L430.50,14.53 L431.00,14.47 L431.50,14.41 L432.00,14.36 L432.50,14.30 L433.00,14.24 L433.50,14.19 L434.00,14.13 L434.50,14.07 L435.00,14.02 L435.50,13.97 L436.00,13.91 L436.50,13.86 L437.00,13.81 L437.50,13.75 L438.00,13.70 L438.50,13.65 L439.00,13.60 L439.50,13.55 L440.00,13.50 L440.50,13.45 L441.00,13.40 L441.50,13.36 L442.00,13.31 L442.50,13.26 L443.00,13.22 L443.50,13.17 L444.00,13.13 L444.50,13.09 L445.00,13.05 L445.50,13.00 L446.00,12.96 L446.50,12.92 L447.00,12.88 L447.50,12.84 L448.00,12.81 L448.50,12.77 L449.00,12.73 L449.50,12.70 L450.00,12.66 L450.50,12.62 L451.00,12.59 L451.50,12.56 L452.00,12.52 L452.50,12.49 L453.00,12.46 L453.50,12.43 L454.00,12.40 L454.50,12.37 L455.00,12.34 L455.50,12.31 L456.00,12.28 L456.50,12.25 L457.00,12.23 L457.50,12.20 L458.00,12.17 L458.50,12.15 L459.00,12.12 L459.50,12.10 L460.00,12.07 L460.50,12.05 L461.00,12.03 L461.50,12.00 L462.00,11.98 L462.50,11.96 L463.00,11.94 L463.50,11.92 L464.00,11.90 L464.50,11.88 L465.00,11.86 L465.50,11.84 L466.00,11.82 L466.50,11.81 L467.00,11.79 L467.50,11.77 L468.00,11.76 L468.50,11.74 L469.00,11.72 L469.50,11.71 L470.00,11.69 L470.50,11.68 L471.00,11.66 L471.50,11.65 L472.00,11.64 L472.50,11.62 L473.00,11.61 L473.50,11.60 L474.00,11.59 L474.50,11.58 L475.00,11.56 L475.50,11.55 L476.00,11.54 L476.50,11.53 L477.00,11.52 L477.50,11.51 L478.00,11.50 L478.50,11.49 L479.00,11.48 L479.50,11.48 L480.00,11.47 L480.50,11.46 L481.00,11.45 L481.50,11.44 L482.00,11.44 L482.50,11.43 L483.00,11.42 L483.50,11.41 L484.00,11.41 L484.50,11.40 L485.00,11.40 L485.50,11.39 L486.00,11.38 L486.50,11.38 L487.00,11.37 L487.50,11.37 L488.00,11.36 L488.50,11.36 L489.00,11.35 L489.50,11.35 L490.00,11.34 L490.50,11.34 L491.00,11.33 L491.50,11.33 L492.00,11.33 L492.50,11.32 L493.00,11.32 L493.50,11.31 L494.00,11.31 L494.50,11.31 L495.00,11.30 L495.50,11.30 L496.00,11.30 L496.50,11.29 L497.00,11.29 L497.50,11.29 L498.00,11.28 L498.50,11.28 L499.00,11.28 L499.50,11.27 L500.00,11.27 L500.50,11.27 L501.00,11.26 L501.50,11.26 L502.00,11.26 L502.50,11.25 L503.00,11.25 L503.50,11.25 L504.00,11.24 L504.50,11.24 L505.00,11.24 L505.50,11.23 L506.00,11.23 L506.50,11.23 L507.00,11.22 L507.50,11.22 L508.00,11.22 L508.50,11.21 L509.00,11.21 L509.50,11.20 L510.00,11.20 L510.50,11.19 L511.00,11.19 L511.50,11.18 L512.00,11.18 L512.50,11.17 L513.00,11.17 L513.50,11.16 L514.00,11.16 L514.50,11.15 L515.00,11.15 L515.50,11.14 L516.00,11.13 L516.50,11.13 L517.00,11.12 L517.50,11.11 L518.00,11.11 L518.50,11.10 L519.00,11.09 L519.50,11.08 L520.00,11.08 L520.50,11.07 L521.00,11.06 L521.50,11.05 L522.00,11.04 L522.50,11.03 L523.00,11.02 L523.50,11.01 L524.00,11.00 L524.50,10.99 L525.00,10.98 L525.50,10.97 L526.00,10.96 L526.50,10.94 L527.00,10.93 L527.50,10.92 L528.00,10.91 L528.50,10.89 L529.00,10.88 L529.50,10.87 L530.00,10.85 L530.50,10.84 L531.00,10.82" fill="none" stroke="#ff0000" stroke-width="1.6" stroke-linejoin="round"/>
<g stroke="#000" stroke-opacity="0.43" stroke-width="1"><line x1="75.87" y1="384.50" x2="75.87" y2="380.50"/><line x1="75.87" y1="1.50" x2="75.87" y2="5.50"/><line x1="93.60" y1="384.50" x2="93.60" y2="378.20"/><line x1="93.60" y1="1.50" x2="93.60" y2="7.80"/><line x1="111.33" y1="384.50" x2="111.33" y2="380.50"/><line x1="111.33" y1="1.50" x2="111.33" y2="5.50"/><line x1="129.06" y1="384.50" x2="129.06" y2="380.50"/><line x1="129.06" y1="1.50" x2="129.06" y2="5.50"/><line x1="146.79" y1="384.50" x2="146.79" y2="380.50"/><line x1="146.79" y1="1.50" x2="146.79" y2="5.50"/><line x1="164.52" y1="384.50" x2="164.52" y2="378.20"/><line x1="164.52" y1="1.50" x2="164.52" y2="7.80"/><line x1="182.25" y1="384.50" x2="182.25" y2="380.50"/><line x1="182.25" y1="1.50" x2="182.25" y2="5.50"/><line x1="199.98" y1="384.50" x2="199.98" y2="380.50"/><line x1="199.98" y1="1.50" x2="199.98" y2="5.50"/><line x1="217.71" y1="384.50" x2="217.71" y2="380.50"/><line x1="217.71" y1="1.50" x2="217.71" y2="5.50"/><line x1="235.44" y1="384.50" x2="235.44" y2="378.20"/><line x1="235.44" y1="1.50" x2="235.44" y2="7.80"/><line x1="253.17" y1="384.50" x2="253.17" y2="380.50"/><line x1="253.17" y1="1.50" x2="253.17" y2="5.50"/><line x1="270.90" y1="384.50" x2="270.90" y2="380.50"/><line x1="270.90" y1="1.50" x2="270.90" y2="5.50"/><line x1="288.63" y1="384.50" x2="288.63" y2="380.50"/><line x1="288.63" y1="1.50" x2="288.63" y2="5.50"/><line x1="306.36" y1="384.50" x2="306.36" y2="378.20"/><line x1="306.36" y1="1.50" x2="306.36" y2="7.80"/><line x1="324.09" y1="384.50" x2="324.09" y2="380.50"/><line x1="324.09" y1="1.50" x2="324.09" y2="5.50"/><line x1="341.82" y1="384.50" x2="341.82" y2="380.50"/><line x1="341.82" y1="1.50" x2="341.82" y2="5.50"/><line x1="359.55" y1="384.50" x2="359.55" y2="380.50"/><line x1="359.55" y1="1.50" x2="359.55" y2="5.50"/><line x1="377.28" y1="384.50" x2="377.28" y2="378.20"/><line x1="377.28" y1="1.50" x2="377.28" y2="7.80"/><line x1="395.01" y1="384.50" x2="395.01" y2="380.50"/><line x1="395.01" y1="1.50" x2="395.01" y2="5.50"/><line x1="412.74" y1="384.50" x2="412.74" y2="380.50"/><line x1="412.74" y1="1.50" x2="412.74" y2="5.50"/><line x1="430.47" y1="384.50" x2="430.47" y2="380.50"/><line x1="430.47" y1="1.50" x2="430.47" y2="5.50"/><line x1="448.20" y1="384.50" x2="448.20" y2="378.20"/><line x1="448.20" y1="1.50" x2="448.20" y2="7.80"/><line x1="465.93" y1="384.50" x2="465.93" y2="380.50"/><line x1="465.93" y1="1.50" x2="465.93" y2="5.50"/><line x1="483.66" y1="384.50" x2="483.66" y2="380.50"/><line x1="483.66" y1="1.50" x2="483.66" y2="5.50"/><line x1="501.39" y1="384.50" x2="501.39" y2="380.50"/><line x1="501.39" y1="1.50" x2="501.39" y2="5.50"/><line x1="519.12" y1="384.50" x2="519.12" y2="378.20"/><line x1="519.12" y1="1.50" x2="519.12" y2="7.80"/><line x1="536.85" y1="384.50" x2="536.85" y2="380.50"/><line x1="536.85" y1="1.50" x2="536.85" y2="5.50"/><line x1="60.50" y1="381.31" x2="64.50" y2="381.31"/><line x1="539.50" y1="381.31" x2="535.50" y2="381.31"/><line x1="60.50" y1="366.61" x2="64.50" y2="366.61"/><line x1="539.50" y1="366.61" x2="535.50" y2="366.61"/><line x1="60.50" y1="351.92" x2="64.50" y2="351.92"/><line x1="539.50" y1="351.92" x2="535.50" y2="351.92"/><line x1="60.50" y1="337.22" x2="64.50" y2="337.22"/><line x1="539.50" y1="337.22" x2="535.50" y2="337.22"/><line x1="60.50" y1="322.53" x2="66.80" y2="322.53"/><line x1="539.50" y1="322.53" x2="533.20" y2="322.53"/><line x1="60.50" y1="307.84" x2="64.50" y2="307.84"/><line x1="539.50" y1="307.84" x2="535.50" y2="307.84"/><line x1="60.50" y1="293.14" x2="64.50" y2="293.14"/><line x1="539.50" y1="293.14" x2="535.50" y2="293.14"/><line x1="60.50" y1="278.45" x2="64.50" y2="278.45"/><line x1="539.50" y1="278.45" x2="535.50" y2="278.45"/><line x1="60.50" y1="263.75" x2="64.50" y2="263.75"/><line x1="539.50" y1="263.75" x2="535.50" y2="263.75"/><line x1="60.50" y1="249.06" x2="66.80" y2="249.06"/><line x1="539.50" y1="249.06" x2="533.20" y2="249.06"/><line x1="60.50" y1="234.37" x2="64.50" y2="234.37"/><line x1="539.50" y1="234.37" x2="535.50" y2="234.37"/><line x1="60.50" y1="219.67" x2="64.50" y2="219.67"/><line x1="539.50" y1="219.67" x2="535.50" y2="219.67"/><line x1="60.50" y1="204.98" x2="64.50" y2="204.98"/><line x1="539.50" y1="204.98" x2="535.50" y2="204.98"/><line x1="60.50" y1="190.28" x2="64.50" y2="190.28"/><line x1="539.50" y1="190.28" x2="535.50" y2="190.28"/><line x1="60.50" y1="175.59" x2="66.80" y2="175.59"/><line x1="539.50" y1="175.59" x2="533.20" y2="175.59"/><line x1="60.50" y1="160.90" x2="64.50" y2="160.90"/><line x1="539.50" y1="160.90" x2="535.50" y2="160.90"/><line x1="60.50" y1="146.20" x2="64.50" y2="146.20"/><line x1="539.50" y1="146.20" x2="535.50" y2="146.20"/><line x1="60.50" y1="131.51" x2="64.50" y2="131.51"/><line x1="539.50" y1="131.51" x2="535.50" y2="131.51"/><line x1="60.50" y1="116.81" x2="64.50" y2="116.81"/><line x1="539.50" y1="116.81" x2="535.50" y2="116.81"/><line x1="60.50" y1="102.12" x2="66.80" y2="102.12"/><line x1="539.50" y1="102.12" x2="533.20" y2="102.12"/><line x1="60.50" y1="87.43" x2="64.50" y2="87.43"/><line x1="539.50" y1="87.43" x2="535.50" y2="87.43"/><line x1="60.50" y1="72.73" x2="64.50" y2="72.73"/><line x1="539.50" y1="72.73" x2="535.50" y2="72.73"/><line x1="60.50" y1="58.04" x2="64.50" y2="58.04"/><line x1="539.50" y1="58.04" x2="535.50" y2="58.04"/><line x1="60.50" y1="43.34" x2="64.50" y2="43.34"/><line x1="539.50" y1="43.34" x2="535.50" y2="43.34"/><line x1="60.50" y1="28.65" x2="66.80" y2="28.65"/><line x1="539.50" y1="28.65" x2="533.20" y2="28.65"/><line x1="60.50" y1="13.96" x2="64.50" y2="13.96"/><line x1="539.50" y1="13.96" x2="535.50" y2="13.96"/></g>
<g stroke="#787878" stroke-width="1" fill="none"><path d="M60.5,384.5 L60.5,1.5 L540,1.5"/><path d="M60.0,384.5 L540,384.5"/><path d="M539.8,1.0 L539.8,385.0"/></g>
<g opacity="0.999">
<text x="93.7" y="404.15" text-anchor="middle">6</text><text x="164.6" y="404.15" text-anchor="middle">8</text><text x="235.5" y="404.15" text-anchor="middle">10</text><text x="306.5" y="404.15" text-anchor="middle">12</text><text x="377.4" y="404.15" text-anchor="middle">14</text><text x="448.3" y="404.15" text-anchor="middle">16</text><text x="519.2" y="404.15" text-anchor="middle">18</text>
<text x="55.3" y="34.0" text-anchor="end">4.6</text><text x="55.3" y="107.5" text-anchor="end">4.5</text><text x="55.3" y="181.0" text-anchor="end">4.4</text><text x="55.3" y="254.5" text-anchor="end">4.3</text><text x="55.3" y="327.9" text-anchor="end">4.2</text>
<text x="299.85" y="432.95" text-anchor="middle">N</text>
<g transform="translate(17.6,227) rotate(-90)">
<line x1="0.7" y1="-11.2" x2="0.7" y2="2.2" stroke="#000" stroke-width="1"/>
<line x1="24.9" y1="-11.2" x2="24.9" y2="2.2" stroke="#000" stroke-width="1"/>
<text x="16.5" y="2.9" font-style="italic" font-size="11.1px">h</text>
<line x1="31.2" y1="2.5" x2="35.3" y2="-11.1" stroke="#000" stroke-width="0.95"/>
<text x="40" y="-0.5">10</text>
<text x="55.6" y="-7.5" font-size="11.1px">27</text>
</g>
<g fill="none" stroke="#000" stroke-linecap="round" stroke-linejoin="round">
<path d="M7.1,211.6 C10,212.2 14,212.2 17.5,212.3" stroke-width="1.35"/>
<path d="M11.6,212.0 C12.0,215.0 13.2,217.4 16.6,219.6 C18.3,221 18.4,222.5 17.4,223.3 C16.9,223.8 16.3,224 16.0,224.0" stroke-width="1.15"/>
<path d="M7.1,211.4 C7.0,214 7.2,217.5 9.1,220.6 C9.8,221.6 10.9,221.8 11.2,219.6" stroke-width="0.7"/>
<path d="M7.5,212.8 L13.2,217.2" stroke-width="0.55"/>
</g>
</g>
</svg>
</body></html>
